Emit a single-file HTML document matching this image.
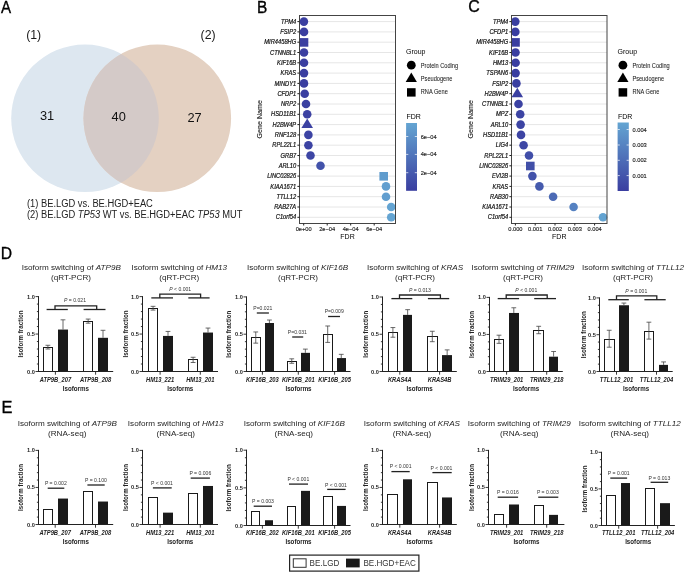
<!DOCTYPE html>
<html><head><meta charset="utf-8"><style>
html,body{margin:0;padding:0;background:#fff;}
body{width:685px;height:573px;overflow:hidden;}
svg{display:block;will-change:transform;}
svg text{font-family:"Liberation Sans",sans-serif;}
</style></head><body>
<svg width="685" height="573" viewBox="0 0 685 573">

<text transform="translate(1.00,12.70) scale(0.9,1)" font-size="16.8" text-anchor="start" fill="#000" font-weight="normal" font-style="normal" stroke="#000" stroke-width="0.35">A</text>
<text transform="translate(257.00,12.60) scale(0.92,1)" font-size="16.8" text-anchor="start" fill="#000" font-weight="normal" font-style="normal" stroke="#000" stroke-width="0.35">B</text>
<text transform="translate(468.30,12.40) scale(0.95,1)" font-size="16.8" text-anchor="start" fill="#000" font-weight="normal" font-style="normal" stroke="#000" stroke-width="0.35">C</text>
<text transform="translate(0.80,258.90) scale(0.93,1)" font-size="16.9" text-anchor="start" fill="#000" font-weight="normal" font-style="normal" stroke="#000" stroke-width="0.35">D</text>
<text transform="translate(1.60,412.80) scale(0.97,1)" font-size="16.9" text-anchor="start" fill="#000" font-weight="normal" font-style="normal" stroke="#000" stroke-width="0.35">E</text>
<defs><clipPath id="cl"><circle cx="85" cy="118.3" r="73.8"/></clipPath></defs>
<circle cx="85" cy="118.3" r="73.8" fill="#dde7f0"/>
<circle cx="157.3" cy="118.3" r="73.8" fill="#e4d1c2"/>
<circle cx="157.3" cy="118.3" r="73.8" fill="#d4cac8" clip-path="url(#cl)"/>
<text x="26.20" y="39.20" font-size="12.3" text-anchor="start" fill="#1a1a1a" font-weight="normal" font-style="normal" >(1)</text>
<text x="200.60" y="39.20" font-size="12.3" text-anchor="start" fill="#1a1a1a" font-weight="normal" font-style="normal" >(2)</text>
<text x="47.00" y="119.80" font-size="12.8" text-anchor="middle" fill="#111" font-weight="normal" font-style="normal" >31</text>
<text x="118.70" y="121.10" font-size="12.8" text-anchor="middle" fill="#111" font-weight="normal" font-style="normal" >40</text>
<text x="194.60" y="121.50" font-size="12.8" text-anchor="middle" fill="#111" font-weight="normal" font-style="normal" >27</text>
<text transform="translate(27.00,206.60) scale(1,1.07)" font-size="9.35" text-anchor="start" fill="#222" font-weight="normal" font-style="normal" >(1) BE.LGD vs. BE.HGD+EAC</text>
<text transform="translate(27.00,218.00) scale(1,1.07)" font-size="9.35" text-anchor="start" fill="#222" font-weight="normal" font-style="normal" >(2) BE.LGD <tspan font-style="italic">TP53</tspan> WT vs. BE.HGD+EAC <tspan font-style="italic">TP53</tspan> MUT</text>
<line x1="299.50" y1="21.60" x2="395.50" y2="21.60" stroke="#e6e6e6" stroke-width="1.0"/>
<line x1="299.50" y1="31.90" x2="395.50" y2="31.90" stroke="#e6e6e6" stroke-width="1.0"/>
<line x1="299.50" y1="42.20" x2="395.50" y2="42.20" stroke="#e6e6e6" stroke-width="1.0"/>
<line x1="299.50" y1="52.50" x2="395.50" y2="52.50" stroke="#e6e6e6" stroke-width="1.0"/>
<line x1="299.50" y1="62.80" x2="395.50" y2="62.80" stroke="#e6e6e6" stroke-width="1.0"/>
<line x1="299.50" y1="73.10" x2="395.50" y2="73.10" stroke="#e6e6e6" stroke-width="1.0"/>
<line x1="299.50" y1="83.40" x2="395.50" y2="83.40" stroke="#e6e6e6" stroke-width="1.0"/>
<line x1="299.50" y1="93.70" x2="395.50" y2="93.70" stroke="#e6e6e6" stroke-width="1.0"/>
<line x1="299.50" y1="104.00" x2="395.50" y2="104.00" stroke="#e6e6e6" stroke-width="1.0"/>
<line x1="299.50" y1="114.30" x2="395.50" y2="114.30" stroke="#e6e6e6" stroke-width="1.0"/>
<line x1="299.50" y1="124.60" x2="395.50" y2="124.60" stroke="#e6e6e6" stroke-width="1.0"/>
<line x1="299.50" y1="134.90" x2="395.50" y2="134.90" stroke="#e6e6e6" stroke-width="1.0"/>
<line x1="299.50" y1="145.20" x2="395.50" y2="145.20" stroke="#e6e6e6" stroke-width="1.0"/>
<line x1="299.50" y1="155.50" x2="395.50" y2="155.50" stroke="#e6e6e6" stroke-width="1.0"/>
<line x1="299.50" y1="165.80" x2="395.50" y2="165.80" stroke="#e6e6e6" stroke-width="1.0"/>
<line x1="299.50" y1="176.10" x2="395.50" y2="176.10" stroke="#e6e6e6" stroke-width="1.0"/>
<line x1="299.50" y1="186.40" x2="395.50" y2="186.40" stroke="#e6e6e6" stroke-width="1.0"/>
<line x1="299.50" y1="196.70" x2="395.50" y2="196.70" stroke="#e6e6e6" stroke-width="1.0"/>
<line x1="299.50" y1="207.00" x2="395.50" y2="207.00" stroke="#e6e6e6" stroke-width="1.0"/>
<line x1="299.50" y1="217.30" x2="395.50" y2="217.30" stroke="#e6e6e6" stroke-width="1.0"/>
<circle cx="303.9" cy="21.60" r="4.3" fill="#3a3ea0"/>
<circle cx="304" cy="31.90" r="4.3" fill="#3a3ea0"/>
<rect x="299.70" y="38.10" width="8.60" height="8.60" fill="#3a3ea0" stroke="none" stroke-width="1"/>
<circle cx="304" cy="52.50" r="4.3" fill="#3a3ea0"/>
<circle cx="304" cy="62.80" r="4.3" fill="#3a3ea0"/>
<circle cx="304" cy="73.10" r="4.3" fill="#3a3ea0"/>
<circle cx="304" cy="83.40" r="4.3" fill="#3a3ea0"/>
<circle cx="304.7" cy="93.70" r="4.3" fill="#3a3fa1"/>
<circle cx="306" cy="104.00" r="4.3" fill="#3b41a1"/>
<circle cx="307.2" cy="114.30" r="4.3" fill="#3c42a2"/>
<polygon points="301.40,128.10 313.00,128.10 307.20,118.60" fill="#3c42a2"/>
<circle cx="308.4" cy="134.90" r="4.3" fill="#3c43a3"/>
<circle cx="308.4" cy="145.20" r="4.3" fill="#3c43a3"/>
<circle cx="310.5" cy="155.50" r="4.3" fill="#3d46a4"/>
<circle cx="320.5" cy="165.80" r="4.3" fill="#4252aa"/>
<rect x="379.40" y="172.00" width="8.60" height="8.60" fill="#609ccd" stroke="none" stroke-width="1"/>
<circle cx="386" cy="186.40" r="4.3" fill="#619ecf"/>
<circle cx="386" cy="196.70" r="4.3" fill="#619ecf"/>
<circle cx="391.2" cy="207.00" r="4.3" fill="#64a4d2"/>
<circle cx="391.2" cy="217.30" r="4.3" fill="#64a4d2"/>
<rect x="299.50" y="15.50" width="96.00" height="208.00" fill="none" stroke="#444" stroke-width="1.0"/>
<line x1="297.40" y1="21.60" x2="299.50" y2="21.60" stroke="#222" stroke-width="1.0"/>
<text transform="translate(296.20,23.70) scale(1,1.1)" font-size="5.75" text-anchor="end" fill="#111" font-weight="normal" font-style="italic" stroke="#111" stroke-width="0.18">TPM4</text>
<line x1="297.40" y1="31.90" x2="299.50" y2="31.90" stroke="#222" stroke-width="1.0"/>
<text transform="translate(296.20,34.00) scale(1,1.1)" font-size="5.75" text-anchor="end" fill="#111" font-weight="normal" font-style="italic" stroke="#111" stroke-width="0.18">FSIP2</text>
<line x1="297.40" y1="42.20" x2="299.50" y2="42.20" stroke="#222" stroke-width="1.0"/>
<text transform="translate(296.20,44.30) scale(1,1.1)" font-size="5.75" text-anchor="end" fill="#111" font-weight="normal" font-style="italic" stroke="#111" stroke-width="0.18">MIR4458HG</text>
<line x1="297.40" y1="52.50" x2="299.50" y2="52.50" stroke="#222" stroke-width="1.0"/>
<text transform="translate(296.20,54.60) scale(1,1.1)" font-size="5.75" text-anchor="end" fill="#111" font-weight="normal" font-style="italic" stroke="#111" stroke-width="0.18">CTNNBL1</text>
<line x1="297.40" y1="62.80" x2="299.50" y2="62.80" stroke="#222" stroke-width="1.0"/>
<text transform="translate(296.20,64.90) scale(1,1.1)" font-size="5.75" text-anchor="end" fill="#111" font-weight="normal" font-style="italic" stroke="#111" stroke-width="0.18">KIF16B</text>
<line x1="297.40" y1="73.10" x2="299.50" y2="73.10" stroke="#222" stroke-width="1.0"/>
<text transform="translate(296.20,75.20) scale(1,1.1)" font-size="5.75" text-anchor="end" fill="#111" font-weight="normal" font-style="italic" stroke="#111" stroke-width="0.18">KRAS</text>
<line x1="297.40" y1="83.40" x2="299.50" y2="83.40" stroke="#222" stroke-width="1.0"/>
<text transform="translate(296.20,85.50) scale(1,1.1)" font-size="5.75" text-anchor="end" fill="#111" font-weight="normal" font-style="italic" stroke="#111" stroke-width="0.18">MINDY1</text>
<line x1="297.40" y1="93.70" x2="299.50" y2="93.70" stroke="#222" stroke-width="1.0"/>
<text transform="translate(296.20,95.80) scale(1,1.1)" font-size="5.75" text-anchor="end" fill="#111" font-weight="normal" font-style="italic" stroke="#111" stroke-width="0.18">CFDP1</text>
<line x1="297.40" y1="104.00" x2="299.50" y2="104.00" stroke="#222" stroke-width="1.0"/>
<text transform="translate(296.20,106.10) scale(1,1.1)" font-size="5.75" text-anchor="end" fill="#111" font-weight="normal" font-style="italic" stroke="#111" stroke-width="0.18">NRP2</text>
<line x1="297.40" y1="114.30" x2="299.50" y2="114.30" stroke="#222" stroke-width="1.0"/>
<text transform="translate(296.20,116.40) scale(1,1.1)" font-size="5.75" text-anchor="end" fill="#111" font-weight="normal" font-style="italic" stroke="#111" stroke-width="0.18">HSD11B1</text>
<line x1="297.40" y1="124.60" x2="299.50" y2="124.60" stroke="#222" stroke-width="1.0"/>
<text transform="translate(296.20,126.70) scale(1,1.1)" font-size="5.75" text-anchor="end" fill="#111" font-weight="normal" font-style="italic" stroke="#111" stroke-width="0.18">H2BW4P</text>
<line x1="297.40" y1="134.90" x2="299.50" y2="134.90" stroke="#222" stroke-width="1.0"/>
<text transform="translate(296.20,137.00) scale(1,1.1)" font-size="5.75" text-anchor="end" fill="#111" font-weight="normal" font-style="italic" stroke="#111" stroke-width="0.18">RNF128</text>
<line x1="297.40" y1="145.20" x2="299.50" y2="145.20" stroke="#222" stroke-width="1.0"/>
<text transform="translate(296.20,147.30) scale(1,1.1)" font-size="5.75" text-anchor="end" fill="#111" font-weight="normal" font-style="italic" stroke="#111" stroke-width="0.18">RPL22L1</text>
<line x1="297.40" y1="155.50" x2="299.50" y2="155.50" stroke="#222" stroke-width="1.0"/>
<text transform="translate(296.20,157.60) scale(1,1.1)" font-size="5.75" text-anchor="end" fill="#111" font-weight="normal" font-style="italic" stroke="#111" stroke-width="0.18">GRB7</text>
<line x1="297.40" y1="165.80" x2="299.50" y2="165.80" stroke="#222" stroke-width="1.0"/>
<text transform="translate(296.20,167.90) scale(1,1.1)" font-size="5.75" text-anchor="end" fill="#111" font-weight="normal" font-style="italic" stroke="#111" stroke-width="0.18">ARL10</text>
<line x1="297.40" y1="176.10" x2="299.50" y2="176.10" stroke="#222" stroke-width="1.0"/>
<text transform="translate(296.20,178.20) scale(1,1.1)" font-size="5.75" text-anchor="end" fill="#111" font-weight="normal" font-style="italic" stroke="#111" stroke-width="0.18">LINC02826</text>
<line x1="297.40" y1="186.40" x2="299.50" y2="186.40" stroke="#222" stroke-width="1.0"/>
<text transform="translate(296.20,188.50) scale(1,1.1)" font-size="5.75" text-anchor="end" fill="#111" font-weight="normal" font-style="italic" stroke="#111" stroke-width="0.18">KIAA1671</text>
<line x1="297.40" y1="196.70" x2="299.50" y2="196.70" stroke="#222" stroke-width="1.0"/>
<text transform="translate(296.20,198.80) scale(1,1.1)" font-size="5.75" text-anchor="end" fill="#111" font-weight="normal" font-style="italic" stroke="#111" stroke-width="0.18">TTLL12</text>
<line x1="297.40" y1="207.00" x2="299.50" y2="207.00" stroke="#222" stroke-width="1.0"/>
<text transform="translate(296.20,209.10) scale(1,1.1)" font-size="5.75" text-anchor="end" fill="#111" font-weight="normal" font-style="italic" stroke="#111" stroke-width="0.18">RAB27A</text>
<line x1="297.40" y1="217.30" x2="299.50" y2="217.30" stroke="#222" stroke-width="1.0"/>
<text transform="translate(296.20,219.40) scale(1,1.1)" font-size="5.75" text-anchor="end" fill="#111" font-weight="normal" font-style="italic" stroke="#111" stroke-width="0.18">C1orf54</text>
<line x1="303.70" y1="223.50" x2="303.70" y2="225.50" stroke="#222" stroke-width="1.0"/>
<text x="303.70" y="231.20" font-size="5.7" text-anchor="middle" fill="#222" font-weight="normal" font-style="normal" stroke="#222" stroke-width="0.14">0e+00</text>
<line x1="327.20" y1="223.50" x2="327.20" y2="225.50" stroke="#222" stroke-width="1.0"/>
<text x="327.20" y="231.20" font-size="5.7" text-anchor="middle" fill="#222" font-weight="normal" font-style="normal" stroke="#222" stroke-width="0.14">2e−04</text>
<line x1="350.70" y1="223.50" x2="350.70" y2="225.50" stroke="#222" stroke-width="1.0"/>
<text x="350.70" y="231.20" font-size="5.7" text-anchor="middle" fill="#222" font-weight="normal" font-style="normal" stroke="#222" stroke-width="0.14">4e−04</text>
<line x1="374.20" y1="223.50" x2="374.20" y2="225.50" stroke="#222" stroke-width="1.0"/>
<text x="374.20" y="231.20" font-size="5.7" text-anchor="middle" fill="#222" font-weight="normal" font-style="normal" stroke="#222" stroke-width="0.14">6e−04</text>
<text x="347.50" y="239.10" font-size="7" text-anchor="middle" fill="#000" font-weight="normal" font-style="normal" >FDR</text>
<text transform="translate(262.20,119.3) rotate(-90)" font-size="7.1" text-anchor="middle" fill="#111" stroke="#111" stroke-width="0.1">Gene Name</text>
<text x="406.00" y="54.20" font-size="7" text-anchor="start" fill="#000" font-weight="normal" font-style="normal" >Group</text>
<circle cx="411.3" cy="65.2" r="4.4" fill="#000"/>
<polygon points="405.7,81.9 416.90000000000003,81.9 411.3,72.5" fill="#000"/>
<rect x="407.00" y="88.20" width="8.60" height="8.40" fill="#000" stroke="none" stroke-width="1"/>
<text transform="translate(420.80,67.50) scale(1,1.15)" font-size="5.65" text-anchor="start" fill="#1a1a1a" font-weight="normal" font-style="normal" stroke="#222" stroke-width="0.05">Protein Coding</text>
<text transform="translate(420.80,80.60) scale(1,1.15)" font-size="5.65" text-anchor="start" fill="#1a1a1a" font-weight="normal" font-style="normal" stroke="#222" stroke-width="0.05">Pseudogene</text>
<text transform="translate(420.80,94.40) scale(1,1.15)" font-size="5.65" text-anchor="start" fill="#1a1a1a" font-weight="normal" font-style="normal" stroke="#222" stroke-width="0.05">RNA Gene</text>
<text x="406.40" y="119.10" font-size="7" text-anchor="start" fill="#000" font-weight="normal" font-style="normal" >FDR</text>
<defs><linearGradient id="g406" x1="0" y1="1" x2="0" y2="0"><stop offset="0" stop-color="#3a3ea0"/><stop offset="1" stop-color="#64a5d2"/></linearGradient></defs>
<rect x="406.10" y="123.00" width="10.90" height="67.80" fill="url(#g406)" stroke="none" stroke-width="1"/>
<line x1="406.10" y1="136.50" x2="408.30" y2="136.50" stroke="#fff" stroke-width="0.7"/>
<line x1="414.80" y1="136.50" x2="417.00" y2="136.50" stroke="#fff" stroke-width="0.7"/>
<text x="420.70" y="138.50" font-size="5.7" text-anchor="start" fill="#222" font-weight="normal" font-style="normal" stroke="#222" stroke-width="0.14">6e−04</text>
<line x1="406.10" y1="154.40" x2="408.30" y2="154.40" stroke="#fff" stroke-width="0.7"/>
<line x1="414.80" y1="154.40" x2="417.00" y2="154.40" stroke="#fff" stroke-width="0.7"/>
<text x="420.70" y="156.40" font-size="5.7" text-anchor="start" fill="#222" font-weight="normal" font-style="normal" stroke="#222" stroke-width="0.14">4e−04</text>
<line x1="406.10" y1="172.70" x2="408.30" y2="172.70" stroke="#fff" stroke-width="0.7"/>
<line x1="414.80" y1="172.70" x2="417.00" y2="172.70" stroke="#fff" stroke-width="0.7"/>
<text x="420.70" y="174.70" font-size="5.7" text-anchor="start" fill="#222" font-weight="normal" font-style="normal" stroke="#222" stroke-width="0.14">2e−04</text>
<line x1="511.50" y1="21.60" x2="607.00" y2="21.60" stroke="#e6e6e6" stroke-width="1.0"/>
<line x1="511.50" y1="31.90" x2="607.00" y2="31.90" stroke="#e6e6e6" stroke-width="1.0"/>
<line x1="511.50" y1="42.20" x2="607.00" y2="42.20" stroke="#e6e6e6" stroke-width="1.0"/>
<line x1="511.50" y1="52.50" x2="607.00" y2="52.50" stroke="#e6e6e6" stroke-width="1.0"/>
<line x1="511.50" y1="62.80" x2="607.00" y2="62.80" stroke="#e6e6e6" stroke-width="1.0"/>
<line x1="511.50" y1="73.10" x2="607.00" y2="73.10" stroke="#e6e6e6" stroke-width="1.0"/>
<line x1="511.50" y1="83.40" x2="607.00" y2="83.40" stroke="#e6e6e6" stroke-width="1.0"/>
<line x1="511.50" y1="93.70" x2="607.00" y2="93.70" stroke="#e6e6e6" stroke-width="1.0"/>
<line x1="511.50" y1="104.00" x2="607.00" y2="104.00" stroke="#e6e6e6" stroke-width="1.0"/>
<line x1="511.50" y1="114.30" x2="607.00" y2="114.30" stroke="#e6e6e6" stroke-width="1.0"/>
<line x1="511.50" y1="124.60" x2="607.00" y2="124.60" stroke="#e6e6e6" stroke-width="1.0"/>
<line x1="511.50" y1="134.90" x2="607.00" y2="134.90" stroke="#e6e6e6" stroke-width="1.0"/>
<line x1="511.50" y1="145.20" x2="607.00" y2="145.20" stroke="#e6e6e6" stroke-width="1.0"/>
<line x1="511.50" y1="155.50" x2="607.00" y2="155.50" stroke="#e6e6e6" stroke-width="1.0"/>
<line x1="511.50" y1="165.80" x2="607.00" y2="165.80" stroke="#e6e6e6" stroke-width="1.0"/>
<line x1="511.50" y1="176.10" x2="607.00" y2="176.10" stroke="#e6e6e6" stroke-width="1.0"/>
<line x1="511.50" y1="186.40" x2="607.00" y2="186.40" stroke="#e6e6e6" stroke-width="1.0"/>
<line x1="511.50" y1="196.70" x2="607.00" y2="196.70" stroke="#e6e6e6" stroke-width="1.0"/>
<line x1="511.50" y1="207.00" x2="607.00" y2="207.00" stroke="#e6e6e6" stroke-width="1.0"/>
<line x1="511.50" y1="217.30" x2="607.00" y2="217.30" stroke="#e6e6e6" stroke-width="1.0"/>
<circle cx="515.3" cy="21.60" r="4.3" fill="#3a3ea0"/>
<circle cx="515.3" cy="31.90" r="4.3" fill="#3a3ea0"/>
<rect x="511.20" y="38.10" width="8.60" height="8.60" fill="#3a3ea0" stroke="none" stroke-width="1"/>
<circle cx="515.5" cy="52.50" r="4.3" fill="#3a3ea0"/>
<circle cx="515.6" cy="62.80" r="4.3" fill="#3a3ea0"/>
<circle cx="515.6" cy="73.10" r="4.3" fill="#3a3ea0"/>
<circle cx="516.4" cy="83.40" r="4.3" fill="#3a3fa1"/>
<polygon points="511.50,97.20 523.10,97.20 517.30,87.70" fill="#3b40a1"/>
<circle cx="518.5" cy="104.00" r="4.3" fill="#3b42a2"/>
<circle cx="520.2" cy="114.30" r="4.3" fill="#3c44a3"/>
<circle cx="520.6" cy="124.60" r="4.3" fill="#3c44a3"/>
<circle cx="521" cy="134.90" r="4.3" fill="#3d44a3"/>
<circle cx="523.6" cy="145.20" r="4.3" fill="#3e47a5"/>
<circle cx="529" cy="155.50" r="4.3" fill="#404ea8"/>
<rect x="526.00" y="161.70" width="8.60" height="8.60" fill="#414fa8" stroke="none" stroke-width="1"/>
<circle cx="532.4" cy="176.10" r="4.3" fill="#4252aa"/>
<circle cx="539.4" cy="186.40" r="4.3" fill="#455aad"/>
<circle cx="553.1" cy="196.70" r="4.3" fill="#4c6ab5"/>
<circle cx="573.6" cy="207.00" r="4.3" fill="#5581c1"/>
<circle cx="603" cy="217.30" r="4.3" fill="#63a3d1"/>
<rect x="511.50" y="15.50" width="95.50" height="208.00" fill="none" stroke="#444" stroke-width="1.0"/>
<line x1="509.40" y1="21.60" x2="511.50" y2="21.60" stroke="#222" stroke-width="1.0"/>
<text transform="translate(508.20,23.70) scale(1,1.1)" font-size="5.75" text-anchor="end" fill="#111" font-weight="normal" font-style="italic" stroke="#111" stroke-width="0.18">TPM4</text>
<line x1="509.40" y1="31.90" x2="511.50" y2="31.90" stroke="#222" stroke-width="1.0"/>
<text transform="translate(508.20,34.00) scale(1,1.1)" font-size="5.75" text-anchor="end" fill="#111" font-weight="normal" font-style="italic" stroke="#111" stroke-width="0.18">CFDP1</text>
<line x1="509.40" y1="42.20" x2="511.50" y2="42.20" stroke="#222" stroke-width="1.0"/>
<text transform="translate(508.20,44.30) scale(1,1.1)" font-size="5.75" text-anchor="end" fill="#111" font-weight="normal" font-style="italic" stroke="#111" stroke-width="0.18">MIR4458HG</text>
<line x1="509.40" y1="52.50" x2="511.50" y2="52.50" stroke="#222" stroke-width="1.0"/>
<text transform="translate(508.20,54.60) scale(1,1.1)" font-size="5.75" text-anchor="end" fill="#111" font-weight="normal" font-style="italic" stroke="#111" stroke-width="0.18">KIF16B</text>
<line x1="509.40" y1="62.80" x2="511.50" y2="62.80" stroke="#222" stroke-width="1.0"/>
<text transform="translate(508.20,64.90) scale(1,1.1)" font-size="5.75" text-anchor="end" fill="#111" font-weight="normal" font-style="italic" stroke="#111" stroke-width="0.18">HM13</text>
<line x1="509.40" y1="73.10" x2="511.50" y2="73.10" stroke="#222" stroke-width="1.0"/>
<text transform="translate(508.20,75.20) scale(1,1.1)" font-size="5.75" text-anchor="end" fill="#111" font-weight="normal" font-style="italic" stroke="#111" stroke-width="0.18">TSPAN6</text>
<line x1="509.40" y1="83.40" x2="511.50" y2="83.40" stroke="#222" stroke-width="1.0"/>
<text transform="translate(508.20,85.50) scale(1,1.1)" font-size="5.75" text-anchor="end" fill="#111" font-weight="normal" font-style="italic" stroke="#111" stroke-width="0.18">FSIP2</text>
<line x1="509.40" y1="93.70" x2="511.50" y2="93.70" stroke="#222" stroke-width="1.0"/>
<text transform="translate(508.20,95.80) scale(1,1.1)" font-size="5.75" text-anchor="end" fill="#111" font-weight="normal" font-style="italic" stroke="#111" stroke-width="0.18">H2BW4P</text>
<line x1="509.40" y1="104.00" x2="511.50" y2="104.00" stroke="#222" stroke-width="1.0"/>
<text transform="translate(508.20,106.10) scale(1,1.1)" font-size="5.75" text-anchor="end" fill="#111" font-weight="normal" font-style="italic" stroke="#111" stroke-width="0.18">CTNNBL1</text>
<line x1="509.40" y1="114.30" x2="511.50" y2="114.30" stroke="#222" stroke-width="1.0"/>
<text transform="translate(508.20,116.40) scale(1,1.1)" font-size="5.75" text-anchor="end" fill="#111" font-weight="normal" font-style="italic" stroke="#111" stroke-width="0.18">MPZ</text>
<line x1="509.40" y1="124.60" x2="511.50" y2="124.60" stroke="#222" stroke-width="1.0"/>
<text transform="translate(508.20,126.70) scale(1,1.1)" font-size="5.75" text-anchor="end" fill="#111" font-weight="normal" font-style="italic" stroke="#111" stroke-width="0.18">ARL10</text>
<line x1="509.40" y1="134.90" x2="511.50" y2="134.90" stroke="#222" stroke-width="1.0"/>
<text transform="translate(508.20,137.00) scale(1,1.1)" font-size="5.75" text-anchor="end" fill="#111" font-weight="normal" font-style="italic" stroke="#111" stroke-width="0.18">HSD11B1</text>
<line x1="509.40" y1="145.20" x2="511.50" y2="145.20" stroke="#222" stroke-width="1.0"/>
<text transform="translate(508.20,147.30) scale(1,1.1)" font-size="5.75" text-anchor="end" fill="#111" font-weight="normal" font-style="italic" stroke="#111" stroke-width="0.18">LIG4</text>
<line x1="509.40" y1="155.50" x2="511.50" y2="155.50" stroke="#222" stroke-width="1.0"/>
<text transform="translate(508.20,157.60) scale(1,1.1)" font-size="5.75" text-anchor="end" fill="#111" font-weight="normal" font-style="italic" stroke="#111" stroke-width="0.18">RPL22L1</text>
<line x1="509.40" y1="165.80" x2="511.50" y2="165.80" stroke="#222" stroke-width="1.0"/>
<text transform="translate(508.20,167.90) scale(1,1.1)" font-size="5.75" text-anchor="end" fill="#111" font-weight="normal" font-style="italic" stroke="#111" stroke-width="0.18">LINC02826</text>
<line x1="509.40" y1="176.10" x2="511.50" y2="176.10" stroke="#222" stroke-width="1.0"/>
<text transform="translate(508.20,178.20) scale(1,1.1)" font-size="5.75" text-anchor="end" fill="#111" font-weight="normal" font-style="italic" stroke="#111" stroke-width="0.18">EVI2B</text>
<line x1="509.40" y1="186.40" x2="511.50" y2="186.40" stroke="#222" stroke-width="1.0"/>
<text transform="translate(508.20,188.50) scale(1,1.1)" font-size="5.75" text-anchor="end" fill="#111" font-weight="normal" font-style="italic" stroke="#111" stroke-width="0.18">KRAS</text>
<line x1="509.40" y1="196.70" x2="511.50" y2="196.70" stroke="#222" stroke-width="1.0"/>
<text transform="translate(508.20,198.80) scale(1,1.1)" font-size="5.75" text-anchor="end" fill="#111" font-weight="normal" font-style="italic" stroke="#111" stroke-width="0.18">RAB30</text>
<line x1="509.40" y1="207.00" x2="511.50" y2="207.00" stroke="#222" stroke-width="1.0"/>
<text transform="translate(508.20,209.10) scale(1,1.1)" font-size="5.75" text-anchor="end" fill="#111" font-weight="normal" font-style="italic" stroke="#111" stroke-width="0.18">KIAA1671</text>
<line x1="509.40" y1="217.30" x2="511.50" y2="217.30" stroke="#222" stroke-width="1.0"/>
<text transform="translate(508.20,219.40) scale(1,1.1)" font-size="5.75" text-anchor="end" fill="#111" font-weight="normal" font-style="italic" stroke="#111" stroke-width="0.18">C1orf54</text>
<line x1="515.40" y1="223.50" x2="515.40" y2="225.50" stroke="#222" stroke-width="1.0"/>
<text x="515.40" y="231.20" font-size="5.7" text-anchor="middle" fill="#222" font-weight="normal" font-style="normal" stroke="#222" stroke-width="0.14">0.000</text>
<line x1="535.20" y1="223.50" x2="535.20" y2="225.50" stroke="#222" stroke-width="1.0"/>
<text x="535.20" y="231.20" font-size="5.7" text-anchor="middle" fill="#222" font-weight="normal" font-style="normal" stroke="#222" stroke-width="0.14">0.001</text>
<line x1="555.00" y1="223.50" x2="555.00" y2="225.50" stroke="#222" stroke-width="1.0"/>
<text x="555.00" y="231.20" font-size="5.7" text-anchor="middle" fill="#222" font-weight="normal" font-style="normal" stroke="#222" stroke-width="0.14">0.002</text>
<line x1="574.80" y1="223.50" x2="574.80" y2="225.50" stroke="#222" stroke-width="1.0"/>
<text x="574.80" y="231.20" font-size="5.7" text-anchor="middle" fill="#222" font-weight="normal" font-style="normal" stroke="#222" stroke-width="0.14">0.003</text>
<line x1="594.60" y1="223.50" x2="594.60" y2="225.50" stroke="#222" stroke-width="1.0"/>
<text x="594.60" y="231.20" font-size="5.7" text-anchor="middle" fill="#222" font-weight="normal" font-style="normal" stroke="#222" stroke-width="0.14">0.004</text>
<text x="559.25" y="239.10" font-size="7" text-anchor="middle" fill="#000" font-weight="normal" font-style="normal" >FDR</text>
<text transform="translate(473.20,119.3) rotate(-90)" font-size="7.1" text-anchor="middle" fill="#111" stroke="#111" stroke-width="0.1">Gene Name</text>
<text x="617.60" y="54.20" font-size="7" text-anchor="start" fill="#000" font-weight="normal" font-style="normal" >Group</text>
<circle cx="622.9" cy="65.2" r="4.4" fill="#000"/>
<polygon points="617.3,81.9 628.5,81.9 622.9,72.5" fill="#000"/>
<rect x="618.60" y="88.20" width="8.60" height="8.40" fill="#000" stroke="none" stroke-width="1"/>
<text transform="translate(632.40,67.50) scale(1,1.15)" font-size="5.65" text-anchor="start" fill="#1a1a1a" font-weight="normal" font-style="normal" stroke="#222" stroke-width="0.05">Protein Coding</text>
<text transform="translate(632.40,80.60) scale(1,1.15)" font-size="5.65" text-anchor="start" fill="#1a1a1a" font-weight="normal" font-style="normal" stroke="#222" stroke-width="0.05">Pseudogene</text>
<text transform="translate(632.40,94.40) scale(1,1.15)" font-size="5.65" text-anchor="start" fill="#1a1a1a" font-weight="normal" font-style="normal" stroke="#222" stroke-width="0.05">RNA Gene</text>
<text x="618.00" y="119.10" font-size="7" text-anchor="start" fill="#000" font-weight="normal" font-style="normal" >FDR</text>
<defs><linearGradient id="g617" x1="0" y1="1" x2="0" y2="0"><stop offset="0" stop-color="#3a3ea0"/><stop offset="1" stop-color="#64a5d2"/></linearGradient></defs>
<rect x="617.60" y="122.50" width="11.20" height="68.50" fill="url(#g617)" stroke="none" stroke-width="1"/>
<line x1="617.60" y1="129.50" x2="619.80" y2="129.50" stroke="#fff" stroke-width="0.7"/>
<line x1="626.60" y1="129.50" x2="628.80" y2="129.50" stroke="#fff" stroke-width="0.7"/>
<text x="632.50" y="131.50" font-size="5.7" text-anchor="start" fill="#222" font-weight="normal" font-style="normal" stroke="#222" stroke-width="0.14">0.004</text>
<line x1="617.60" y1="145.00" x2="619.80" y2="145.00" stroke="#fff" stroke-width="0.7"/>
<line x1="626.60" y1="145.00" x2="628.80" y2="145.00" stroke="#fff" stroke-width="0.7"/>
<text x="632.50" y="147.00" font-size="5.7" text-anchor="start" fill="#222" font-weight="normal" font-style="normal" stroke="#222" stroke-width="0.14">0.003</text>
<line x1="617.60" y1="160.30" x2="619.80" y2="160.30" stroke="#fff" stroke-width="0.7"/>
<line x1="626.60" y1="160.30" x2="628.80" y2="160.30" stroke="#fff" stroke-width="0.7"/>
<text x="632.50" y="162.30" font-size="5.7" text-anchor="start" fill="#222" font-weight="normal" font-style="normal" stroke="#222" stroke-width="0.14">0.002</text>
<line x1="617.60" y1="175.60" x2="619.80" y2="175.60" stroke="#fff" stroke-width="0.7"/>
<line x1="626.60" y1="175.60" x2="628.80" y2="175.60" stroke="#fff" stroke-width="0.7"/>
<text x="632.50" y="177.60" font-size="5.7" text-anchor="start" fill="#222" font-weight="normal" font-style="normal" stroke="#222" stroke-width="0.14">0.001</text>
<rect x="43.50" y="347.50" width="9.00" height="24.00" fill="#fff" stroke="#1a1a1a" stroke-width="1.0"/>
<line x1="47.90" y1="347.16" x2="47.90" y2="345.29" stroke="#444" stroke-width="0.8"/>
<line x1="45.50" y1="345.29" x2="50.30" y2="345.29" stroke="#444" stroke-width="0.8"/>
<line x1="47.90" y1="347.16" x2="47.90" y2="349.03" stroke="#444" stroke-width="0.8"/>
<line x1="45.50" y1="349.03" x2="50.30" y2="349.03" stroke="#444" stroke-width="0.8"/>
<rect x="58.00" y="329.56" width="10.00" height="41.94" fill="#1a1a1a" stroke="none" stroke-width="1"/>
<line x1="63.00" y1="329.56" x2="63.00" y2="319.82" stroke="#444" stroke-width="0.8"/>
<line x1="60.60" y1="319.82" x2="65.40" y2="319.82" stroke="#444" stroke-width="0.8"/>
<rect x="83.50" y="321.50" width="9.00" height="50.00" fill="#fff" stroke="#1a1a1a" stroke-width="1.0"/>
<line x1="88.15" y1="321.32" x2="88.15" y2="319.07" stroke="#444" stroke-width="0.8"/>
<line x1="85.75" y1="319.07" x2="90.55" y2="319.07" stroke="#444" stroke-width="0.8"/>
<line x1="88.15" y1="321.32" x2="88.15" y2="323.19" stroke="#444" stroke-width="0.8"/>
<line x1="85.75" y1="323.19" x2="90.55" y2="323.19" stroke="#444" stroke-width="0.8"/>
<rect x="98.00" y="337.80" width="10.00" height="33.70" fill="#1a1a1a" stroke="none" stroke-width="1"/>
<line x1="103.00" y1="337.80" x2="103.00" y2="330.31" stroke="#444" stroke-width="0.8"/>
<line x1="100.60" y1="330.31" x2="105.40" y2="330.31" stroke="#444" stroke-width="0.8"/>
<line x1="38.50" y1="296.10" x2="38.50" y2="372.00" stroke="#222" stroke-width="1.0"/>
<line x1="38.00" y1="371.50" x2="113.20" y2="371.50" stroke="#222" stroke-width="1.0"/>
<line x1="35.50" y1="371.50" x2="38.50" y2="371.50" stroke="#222" stroke-width="0.9"/>
<line x1="36.90" y1="364.01" x2="38.50" y2="364.01" stroke="#222" stroke-width="0.9"/>
<line x1="36.90" y1="356.52" x2="38.50" y2="356.52" stroke="#222" stroke-width="0.9"/>
<line x1="36.90" y1="349.03" x2="38.50" y2="349.03" stroke="#222" stroke-width="0.9"/>
<line x1="36.90" y1="341.54" x2="38.50" y2="341.54" stroke="#222" stroke-width="0.9"/>
<line x1="35.50" y1="334.05" x2="38.50" y2="334.05" stroke="#222" stroke-width="0.9"/>
<line x1="36.90" y1="326.56" x2="38.50" y2="326.56" stroke="#222" stroke-width="0.9"/>
<line x1="36.90" y1="319.07" x2="38.50" y2="319.07" stroke="#222" stroke-width="0.9"/>
<line x1="36.90" y1="311.58" x2="38.50" y2="311.58" stroke="#222" stroke-width="0.9"/>
<line x1="36.90" y1="304.09" x2="38.50" y2="304.09" stroke="#222" stroke-width="0.9"/>
<line x1="35.50" y1="296.60" x2="38.50" y2="296.60" stroke="#222" stroke-width="0.9"/>
<text x="34.90" y="373.50" font-size="5.6" text-anchor="end" fill="#222" font-weight="bold" font-style="normal" >0.0</text>
<text x="34.90" y="336.05" font-size="5.6" text-anchor="end" fill="#222" font-weight="bold" font-style="normal" >0.5</text>
<text x="34.90" y="298.60" font-size="5.6" text-anchor="end" fill="#222" font-weight="bold" font-style="normal" >1.0</text>
<text transform="translate(23.20,334.05) rotate(-90) scale(1,1.1)" font-size="6.2" text-anchor="middle" fill="#222" font-weight="bold">Isoform fraction</text>
<line x1="55.40" y1="371.50" x2="55.40" y2="374.70" stroke="#222" stroke-width="0.9"/>
<text transform="translate(55.40,381.60) scale(1,1.12)" font-size="5.8" text-anchor="middle" fill="#222" font-weight="bold" font-style="italic" >ATP9B_207</text>
<line x1="95.60" y1="371.50" x2="95.60" y2="374.70" stroke="#222" stroke-width="0.9"/>
<text transform="translate(95.60,381.60) scale(1,1.12)" font-size="5.8" text-anchor="middle" fill="#222" font-weight="bold" font-style="italic" >ATP9B_208</text>
<text transform="translate(75.85,390.90) scale(1,1.1)" font-size="6.2" text-anchor="middle" fill="#222" font-weight="bold" font-style="normal" >Isoforms</text>
<text transform="translate(71.25,270.00) scale(1.058,1)" font-size="7.7" text-anchor="middle" fill="#1e1e1e" font-weight="normal" font-style="normal" >Isoform switching of <tspan font-style="italic">ATP9B</tspan></text>
<text transform="translate(70.95,279.80) scale(1.058,1)" font-size="7.7" text-anchor="middle" fill="#1e1e1e" font-weight="normal" font-style="normal" >(qRT-PCR)</text>
<polyline points="55,309.5 55,305.79999999999995 96.7,305.79999999999995 96.7,309.5" fill="none" stroke="#222" stroke-width="1.3"/>
<line x1="46.60" y1="309.50" x2="67.80" y2="309.50" stroke="#222" stroke-width="1.3"/>
<line x1="83.60" y1="309.50" x2="105.50" y2="309.50" stroke="#222" stroke-width="1.3"/>
<text transform="translate(75.00,302.20) scale(1,1.08)" font-size="5.1" text-anchor="middle" fill="#333" font-weight="normal" font-style="normal" ><tspan font-style="italic">P</tspan> = 0.021</text>
<rect x="148.50" y="308.50" width="9.00" height="63.00" fill="#fff" stroke="#1a1a1a" stroke-width="1.0"/>
<line x1="153.05" y1="308.58" x2="153.05" y2="306.34" stroke="#444" stroke-width="0.8"/>
<line x1="150.65" y1="306.34" x2="155.45" y2="306.34" stroke="#444" stroke-width="0.8"/>
<line x1="153.05" y1="308.58" x2="153.05" y2="310.08" stroke="#444" stroke-width="0.8"/>
<line x1="150.65" y1="310.08" x2="155.45" y2="310.08" stroke="#444" stroke-width="0.8"/>
<rect x="163.00" y="335.92" width="10.00" height="35.58" fill="#1a1a1a" stroke="none" stroke-width="1"/>
<line x1="168.00" y1="335.92" x2="168.00" y2="331.43" stroke="#444" stroke-width="0.8"/>
<line x1="165.60" y1="331.43" x2="170.40" y2="331.43" stroke="#444" stroke-width="0.8"/>
<rect x="188.50" y="359.50" width="9.00" height="12.00" fill="#fff" stroke="#1a1a1a" stroke-width="1.0"/>
<line x1="193.10" y1="359.89" x2="193.10" y2="357.27" stroke="#444" stroke-width="0.8"/>
<line x1="190.70" y1="357.27" x2="195.50" y2="357.27" stroke="#444" stroke-width="0.8"/>
<line x1="193.10" y1="359.89" x2="193.10" y2="362.51" stroke="#444" stroke-width="0.8"/>
<line x1="190.70" y1="362.51" x2="195.50" y2="362.51" stroke="#444" stroke-width="0.8"/>
<rect x="203.00" y="332.55" width="10.00" height="38.95" fill="#1a1a1a" stroke="none" stroke-width="1"/>
<line x1="208.00" y1="332.55" x2="208.00" y2="328.06" stroke="#444" stroke-width="0.8"/>
<line x1="205.60" y1="328.06" x2="210.40" y2="328.06" stroke="#444" stroke-width="0.8"/>
<line x1="142.50" y1="296.10" x2="142.50" y2="372.00" stroke="#222" stroke-width="1.0"/>
<line x1="142.00" y1="371.50" x2="218.00" y2="371.50" stroke="#222" stroke-width="1.0"/>
<line x1="139.50" y1="371.50" x2="142.50" y2="371.50" stroke="#222" stroke-width="0.9"/>
<line x1="140.90" y1="364.01" x2="142.50" y2="364.01" stroke="#222" stroke-width="0.9"/>
<line x1="140.90" y1="356.52" x2="142.50" y2="356.52" stroke="#222" stroke-width="0.9"/>
<line x1="140.90" y1="349.03" x2="142.50" y2="349.03" stroke="#222" stroke-width="0.9"/>
<line x1="140.90" y1="341.54" x2="142.50" y2="341.54" stroke="#222" stroke-width="0.9"/>
<line x1="139.50" y1="334.05" x2="142.50" y2="334.05" stroke="#222" stroke-width="0.9"/>
<line x1="140.90" y1="326.56" x2="142.50" y2="326.56" stroke="#222" stroke-width="0.9"/>
<line x1="140.90" y1="319.07" x2="142.50" y2="319.07" stroke="#222" stroke-width="0.9"/>
<line x1="140.90" y1="311.58" x2="142.50" y2="311.58" stroke="#222" stroke-width="0.9"/>
<line x1="140.90" y1="304.09" x2="142.50" y2="304.09" stroke="#222" stroke-width="0.9"/>
<line x1="139.50" y1="296.60" x2="142.50" y2="296.60" stroke="#222" stroke-width="0.9"/>
<text x="138.90" y="373.50" font-size="5.6" text-anchor="end" fill="#222" font-weight="bold" font-style="normal" >0.0</text>
<text x="138.90" y="336.05" font-size="5.6" text-anchor="end" fill="#222" font-weight="bold" font-style="normal" >0.5</text>
<text x="138.90" y="298.60" font-size="5.6" text-anchor="end" fill="#222" font-weight="bold" font-style="normal" >1.0</text>
<text transform="translate(128.10,334.05) rotate(-90) scale(1,1.1)" font-size="6.2" text-anchor="middle" fill="#222" font-weight="bold">Isoform fraction</text>
<line x1="160.10" y1="371.50" x2="160.10" y2="374.70" stroke="#222" stroke-width="0.9"/>
<text transform="translate(160.10,381.60) scale(1,1.12)" font-size="5.8" text-anchor="middle" fill="#222" font-weight="bold" font-style="italic" >HM13_221</text>
<line x1="200.30" y1="371.50" x2="200.30" y2="374.70" stroke="#222" stroke-width="0.9"/>
<text transform="translate(200.30,381.60) scale(1,1.12)" font-size="5.8" text-anchor="middle" fill="#222" font-weight="bold" font-style="italic" >HM13_201</text>
<text transform="translate(180.25,390.90) scale(1,1.1)" font-size="6.2" text-anchor="middle" fill="#222" font-weight="bold" font-style="normal" >Isoforms</text>
<text transform="translate(179.25,270.00) scale(1.058,1)" font-size="7.7" text-anchor="middle" fill="#1e1e1e" font-weight="normal" font-style="normal" >Isoform switching of <tspan font-style="italic">HM13</tspan></text>
<text transform="translate(179.25,279.80) scale(1.058,1)" font-size="7.7" text-anchor="middle" fill="#1e1e1e" font-weight="normal" font-style="normal" >(qRT-PCR)</text>
<polyline points="159.8,297.9 159.8,294.2 200.6,294.2 200.6,297.9" fill="none" stroke="#222" stroke-width="1.3"/>
<line x1="151.30" y1="297.90" x2="173.00" y2="297.90" stroke="#222" stroke-width="1.3"/>
<line x1="188.30" y1="297.90" x2="209.60" y2="297.90" stroke="#222" stroke-width="1.3"/>
<text transform="translate(180.20,291.10) scale(1,1.08)" font-size="5.1" text-anchor="middle" fill="#333" font-weight="normal" font-style="normal" ><tspan font-style="italic">P</tspan> &lt; 0.001</text>
<rect x="251.50" y="337.50" width="9.00" height="34.00" fill="#fff" stroke="#1a1a1a" stroke-width="1.0"/>
<line x1="255.75" y1="337.93" x2="255.75" y2="331.96" stroke="#444" stroke-width="0.8"/>
<line x1="253.35" y1="331.96" x2="258.15" y2="331.96" stroke="#444" stroke-width="0.8"/>
<line x1="255.75" y1="337.93" x2="255.75" y2="343.15" stroke="#444" stroke-width="0.8"/>
<line x1="253.35" y1="343.15" x2="258.15" y2="343.15" stroke="#444" stroke-width="0.8"/>
<rect x="265.00" y="323.01" width="9.00" height="48.49" fill="#1a1a1a" stroke="none" stroke-width="1"/>
<line x1="269.40" y1="323.01" x2="269.40" y2="320.03" stroke="#444" stroke-width="0.8"/>
<line x1="267.00" y1="320.03" x2="271.80" y2="320.03" stroke="#444" stroke-width="0.8"/>
<rect x="287.50" y="361.50" width="9.00" height="10.00" fill="#fff" stroke="#1a1a1a" stroke-width="1.0"/>
<line x1="291.75" y1="361.06" x2="291.75" y2="358.82" stroke="#444" stroke-width="0.8"/>
<line x1="289.35" y1="358.82" x2="294.15" y2="358.82" stroke="#444" stroke-width="0.8"/>
<line x1="291.75" y1="361.06" x2="291.75" y2="363.29" stroke="#444" stroke-width="0.8"/>
<line x1="289.35" y1="363.29" x2="294.15" y2="363.29" stroke="#444" stroke-width="0.8"/>
<rect x="301.00" y="352.85" width="9.00" height="18.65" fill="#1a1a1a" stroke="none" stroke-width="1"/>
<line x1="305.35" y1="352.85" x2="305.35" y2="349.12" stroke="#444" stroke-width="0.8"/>
<line x1="302.95" y1="349.12" x2="307.75" y2="349.12" stroke="#444" stroke-width="0.8"/>
<rect x="323.50" y="334.50" width="9.00" height="37.00" fill="#fff" stroke="#1a1a1a" stroke-width="1.0"/>
<line x1="327.70" y1="334.20" x2="327.70" y2="325.99" stroke="#444" stroke-width="0.8"/>
<line x1="325.30" y1="325.99" x2="330.10" y2="325.99" stroke="#444" stroke-width="0.8"/>
<line x1="327.70" y1="334.20" x2="327.70" y2="342.41" stroke="#444" stroke-width="0.8"/>
<line x1="325.30" y1="342.41" x2="330.10" y2="342.41" stroke="#444" stroke-width="0.8"/>
<rect x="337.00" y="358.07" width="9.00" height="13.43" fill="#1a1a1a" stroke="none" stroke-width="1"/>
<line x1="341.25" y1="358.07" x2="341.25" y2="354.34" stroke="#444" stroke-width="0.8"/>
<line x1="338.85" y1="354.34" x2="343.65" y2="354.34" stroke="#444" stroke-width="0.8"/>
<line x1="246.50" y1="296.40" x2="246.50" y2="372.00" stroke="#222" stroke-width="1.0"/>
<line x1="246.00" y1="371.50" x2="350.50" y2="371.50" stroke="#222" stroke-width="1.0"/>
<line x1="243.50" y1="371.50" x2="246.50" y2="371.50" stroke="#222" stroke-width="0.9"/>
<line x1="244.90" y1="364.04" x2="246.50" y2="364.04" stroke="#222" stroke-width="0.9"/>
<line x1="244.90" y1="356.58" x2="246.50" y2="356.58" stroke="#222" stroke-width="0.9"/>
<line x1="244.90" y1="349.12" x2="246.50" y2="349.12" stroke="#222" stroke-width="0.9"/>
<line x1="244.90" y1="341.66" x2="246.50" y2="341.66" stroke="#222" stroke-width="0.9"/>
<line x1="243.50" y1="334.20" x2="246.50" y2="334.20" stroke="#222" stroke-width="0.9"/>
<line x1="244.90" y1="326.74" x2="246.50" y2="326.74" stroke="#222" stroke-width="0.9"/>
<line x1="244.90" y1="319.28" x2="246.50" y2="319.28" stroke="#222" stroke-width="0.9"/>
<line x1="244.90" y1="311.82" x2="246.50" y2="311.82" stroke="#222" stroke-width="0.9"/>
<line x1="244.90" y1="304.36" x2="246.50" y2="304.36" stroke="#222" stroke-width="0.9"/>
<line x1="243.50" y1="296.90" x2="246.50" y2="296.90" stroke="#222" stroke-width="0.9"/>
<text x="242.90" y="373.50" font-size="5.6" text-anchor="end" fill="#222" font-weight="bold" font-style="normal" >0.0</text>
<text x="242.90" y="336.20" font-size="5.6" text-anchor="end" fill="#222" font-weight="bold" font-style="normal" >0.5</text>
<text x="242.90" y="298.90" font-size="5.6" text-anchor="end" fill="#222" font-weight="bold" font-style="normal" >1.0</text>
<text transform="translate(231.10,334.20) rotate(-90) scale(1,1.1)" font-size="6.2" text-anchor="middle" fill="#222" font-weight="bold">Isoform fraction</text>
<line x1="262.40" y1="371.50" x2="262.40" y2="374.70" stroke="#222" stroke-width="0.9"/>
<text transform="translate(262.40,381.60) scale(1,1.12)" font-size="5.8" text-anchor="middle" fill="#222" font-weight="bold" font-style="italic" >KIF16B_203</text>
<line x1="298.30" y1="371.50" x2="298.30" y2="374.70" stroke="#222" stroke-width="0.9"/>
<text transform="translate(298.30,381.60) scale(1,1.12)" font-size="5.8" text-anchor="middle" fill="#222" font-weight="bold" font-style="italic" >KIF16B_201</text>
<line x1="334.60" y1="371.50" x2="334.60" y2="374.70" stroke="#222" stroke-width="0.9"/>
<text transform="translate(334.60,381.60) scale(1,1.12)" font-size="5.8" text-anchor="middle" fill="#222" font-weight="bold" font-style="italic" >KIF16B_205</text>
<text transform="translate(298.50,390.90) scale(1,1.1)" font-size="6.2" text-anchor="middle" fill="#222" font-weight="bold" font-style="normal" >Isoforms</text>
<text transform="translate(297.50,270.00) scale(1.058,1)" font-size="7.7" text-anchor="middle" fill="#1e1e1e" font-weight="normal" font-style="normal" >Isoform switching of <tspan font-style="italic">KIF16B</tspan></text>
<text transform="translate(298.00,279.80) scale(1.058,1)" font-size="7.7" text-anchor="middle" fill="#1e1e1e" font-weight="normal" font-style="normal" >(qRT-PCR)</text>
<line x1="256.80" y1="313.00" x2="268.90" y2="313.00" stroke="#222" stroke-width="1.3"/>
<text transform="translate(262.80,309.70) scale(1,1.08)" font-size="5.1" text-anchor="middle" fill="#333" font-weight="normal" font-style="normal" >P=0.021</text>
<line x1="292.20" y1="337.00" x2="303.20" y2="337.00" stroke="#222" stroke-width="1.3"/>
<text transform="translate(297.40,333.90) scale(1,1.08)" font-size="5.1" text-anchor="middle" fill="#333" font-weight="normal" font-style="normal" >P=0.031</text>
<line x1="328.10" y1="316.50" x2="340.00" y2="316.50" stroke="#222" stroke-width="1.3"/>
<text transform="translate(334.20,313.20) scale(1,1.08)" font-size="5.1" text-anchor="middle" fill="#333" font-weight="normal" font-style="normal" >P=0.009</text>
<rect x="388.50" y="332.50" width="9.00" height="39.00" fill="#fff" stroke="#1a1a1a" stroke-width="1.0"/>
<line x1="392.90" y1="332.76" x2="392.90" y2="327.55" stroke="#444" stroke-width="0.8"/>
<line x1="390.50" y1="327.55" x2="395.30" y2="327.55" stroke="#444" stroke-width="0.8"/>
<line x1="392.90" y1="332.76" x2="392.90" y2="337.23" stroke="#444" stroke-width="0.8"/>
<line x1="390.50" y1="337.23" x2="395.30" y2="337.23" stroke="#444" stroke-width="0.8"/>
<rect x="403.00" y="314.88" width="9.00" height="56.62" fill="#1a1a1a" stroke="none" stroke-width="1"/>
<line x1="407.65" y1="314.88" x2="407.65" y2="309.67" stroke="#444" stroke-width="0.8"/>
<line x1="405.25" y1="309.67" x2="410.05" y2="309.67" stroke="#444" stroke-width="0.8"/>
<rect x="427.50" y="336.50" width="10.00" height="35.00" fill="#fff" stroke="#1a1a1a" stroke-width="1.0"/>
<line x1="432.30" y1="336.86" x2="432.30" y2="331.27" stroke="#444" stroke-width="0.8"/>
<line x1="429.90" y1="331.27" x2="434.70" y2="331.27" stroke="#444" stroke-width="0.8"/>
<line x1="432.30" y1="336.86" x2="432.30" y2="341.70" stroke="#444" stroke-width="0.8"/>
<line x1="429.90" y1="341.70" x2="434.70" y2="341.70" stroke="#444" stroke-width="0.8"/>
<rect x="442.00" y="355.11" width="10.00" height="16.39" fill="#1a1a1a" stroke="none" stroke-width="1"/>
<line x1="447.15" y1="355.11" x2="447.15" y2="349.89" stroke="#444" stroke-width="0.8"/>
<line x1="444.75" y1="349.89" x2="449.55" y2="349.89" stroke="#444" stroke-width="0.8"/>
<line x1="382.50" y1="296.50" x2="382.50" y2="372.00" stroke="#222" stroke-width="1.0"/>
<line x1="382.00" y1="371.50" x2="456.80" y2="371.50" stroke="#222" stroke-width="1.0"/>
<line x1="379.50" y1="371.50" x2="382.50" y2="371.50" stroke="#222" stroke-width="0.9"/>
<line x1="380.90" y1="364.05" x2="382.50" y2="364.05" stroke="#222" stroke-width="0.9"/>
<line x1="380.90" y1="356.60" x2="382.50" y2="356.60" stroke="#222" stroke-width="0.9"/>
<line x1="380.90" y1="349.15" x2="382.50" y2="349.15" stroke="#222" stroke-width="0.9"/>
<line x1="380.90" y1="341.70" x2="382.50" y2="341.70" stroke="#222" stroke-width="0.9"/>
<line x1="379.50" y1="334.25" x2="382.50" y2="334.25" stroke="#222" stroke-width="0.9"/>
<line x1="380.90" y1="326.80" x2="382.50" y2="326.80" stroke="#222" stroke-width="0.9"/>
<line x1="380.90" y1="319.35" x2="382.50" y2="319.35" stroke="#222" stroke-width="0.9"/>
<line x1="380.90" y1="311.90" x2="382.50" y2="311.90" stroke="#222" stroke-width="0.9"/>
<line x1="380.90" y1="304.45" x2="382.50" y2="304.45" stroke="#222" stroke-width="0.9"/>
<line x1="379.50" y1="297.00" x2="382.50" y2="297.00" stroke="#222" stroke-width="0.9"/>
<text x="378.90" y="373.50" font-size="5.6" text-anchor="end" fill="#222" font-weight="bold" font-style="normal" >0.0</text>
<text x="378.90" y="336.25" font-size="5.6" text-anchor="end" fill="#222" font-weight="bold" font-style="normal" >0.5</text>
<text x="378.90" y="299.00" font-size="5.6" text-anchor="end" fill="#222" font-weight="bold" font-style="normal" >1.0</text>
<text transform="translate(367.60,334.25) rotate(-90) scale(1,1.1)" font-size="6.2" text-anchor="middle" fill="#222" font-weight="bold">Isoform fraction</text>
<line x1="399.80" y1="371.50" x2="399.80" y2="374.70" stroke="#222" stroke-width="0.9"/>
<text transform="translate(399.80,381.60) scale(1,1.12)" font-size="5.8" text-anchor="middle" fill="#222" font-weight="bold" font-style="italic" >KRAS4A</text>
<line x1="439.60" y1="371.50" x2="439.60" y2="374.70" stroke="#222" stroke-width="0.9"/>
<text transform="translate(439.60,381.60) scale(1,1.12)" font-size="5.8" text-anchor="middle" fill="#222" font-weight="bold" font-style="italic" >KRAS4B</text>
<text transform="translate(419.65,390.90) scale(1,1.1)" font-size="6.2" text-anchor="middle" fill="#222" font-weight="bold" font-style="normal" >Isoforms</text>
<text transform="translate(415.00,270.00) scale(1.058,1)" font-size="7.7" text-anchor="middle" fill="#1e1e1e" font-weight="normal" font-style="normal" >Isoform switching of <tspan font-style="italic">KRAS</tspan></text>
<text transform="translate(415.00,279.80) scale(1.058,1)" font-size="7.7" text-anchor="middle" fill="#1e1e1e" font-weight="normal" font-style="normal" >(qRT-PCR)</text>
<polyline points="399.5,298.59999999999997 399.5,295.0 440.4,295.0 440.4,298.59999999999997" fill="none" stroke="#222" stroke-width="1.3"/>
<line x1="391.40" y1="298.60" x2="412.30" y2="298.60" stroke="#222" stroke-width="1.3"/>
<line x1="427.90" y1="298.60" x2="449.20" y2="298.60" stroke="#222" stroke-width="1.3"/>
<text transform="translate(419.90,292.10) scale(1,1.08)" font-size="5.1" text-anchor="middle" fill="#333" font-weight="normal" font-style="normal" ><tspan font-style="italic">P</tspan> = 0.013</text>
<rect x="494.50" y="339.50" width="9.00" height="32.00" fill="#fff" stroke="#1a1a1a" stroke-width="1.0"/>
<line x1="499.00" y1="339.64" x2="499.00" y2="335.19" stroke="#444" stroke-width="0.8"/>
<line x1="496.60" y1="335.19" x2="501.40" y2="335.19" stroke="#444" stroke-width="0.8"/>
<line x1="499.00" y1="339.64" x2="499.00" y2="343.34" stroke="#444" stroke-width="0.8"/>
<line x1="496.60" y1="343.34" x2="501.40" y2="343.34" stroke="#444" stroke-width="0.8"/>
<rect x="509.00" y="312.96" width="10.00" height="58.54" fill="#1a1a1a" stroke="none" stroke-width="1"/>
<line x1="513.80" y1="312.96" x2="513.80" y2="307.77" stroke="#444" stroke-width="0.8"/>
<line x1="511.40" y1="307.77" x2="516.20" y2="307.77" stroke="#444" stroke-width="0.8"/>
<rect x="533.50" y="330.50" width="10.00" height="41.00" fill="#fff" stroke="#1a1a1a" stroke-width="1.0"/>
<line x1="538.70" y1="330.37" x2="538.70" y2="326.30" stroke="#444" stroke-width="0.8"/>
<line x1="536.30" y1="326.30" x2="541.10" y2="326.30" stroke="#444" stroke-width="0.8"/>
<line x1="538.70" y1="330.37" x2="538.70" y2="333.71" stroke="#444" stroke-width="0.8"/>
<line x1="536.30" y1="333.71" x2="541.10" y2="333.71" stroke="#444" stroke-width="0.8"/>
<rect x="549.00" y="356.68" width="9.00" height="14.82" fill="#1a1a1a" stroke="none" stroke-width="1"/>
<line x1="553.60" y1="356.68" x2="553.60" y2="351.49" stroke="#444" stroke-width="0.8"/>
<line x1="551.20" y1="351.49" x2="556.00" y2="351.49" stroke="#444" stroke-width="0.8"/>
<line x1="489.50" y1="296.90" x2="489.50" y2="372.00" stroke="#222" stroke-width="1.0"/>
<line x1="489.00" y1="371.50" x2="562.80" y2="371.50" stroke="#222" stroke-width="1.0"/>
<line x1="486.50" y1="371.50" x2="489.50" y2="371.50" stroke="#222" stroke-width="0.9"/>
<line x1="487.90" y1="364.09" x2="489.50" y2="364.09" stroke="#222" stroke-width="0.9"/>
<line x1="487.90" y1="356.68" x2="489.50" y2="356.68" stroke="#222" stroke-width="0.9"/>
<line x1="487.90" y1="349.27" x2="489.50" y2="349.27" stroke="#222" stroke-width="0.9"/>
<line x1="487.90" y1="341.86" x2="489.50" y2="341.86" stroke="#222" stroke-width="0.9"/>
<line x1="486.50" y1="334.45" x2="489.50" y2="334.45" stroke="#222" stroke-width="0.9"/>
<line x1="487.90" y1="327.04" x2="489.50" y2="327.04" stroke="#222" stroke-width="0.9"/>
<line x1="487.90" y1="319.63" x2="489.50" y2="319.63" stroke="#222" stroke-width="0.9"/>
<line x1="487.90" y1="312.22" x2="489.50" y2="312.22" stroke="#222" stroke-width="0.9"/>
<line x1="487.90" y1="304.81" x2="489.50" y2="304.81" stroke="#222" stroke-width="0.9"/>
<line x1="486.50" y1="297.40" x2="489.50" y2="297.40" stroke="#222" stroke-width="0.9"/>
<text x="485.90" y="373.50" font-size="5.6" text-anchor="end" fill="#222" font-weight="bold" font-style="normal" >0.0</text>
<text x="485.90" y="336.45" font-size="5.6" text-anchor="end" fill="#222" font-weight="bold" font-style="normal" >0.5</text>
<text x="485.90" y="299.40" font-size="5.6" text-anchor="end" fill="#222" font-weight="bold" font-style="normal" >1.0</text>
<text transform="translate(474.30,334.45) rotate(-90) scale(1,1.1)" font-size="6.2" text-anchor="middle" fill="#222" font-weight="bold">Isoform fraction</text>
<line x1="506.60" y1="371.50" x2="506.60" y2="374.70" stroke="#222" stroke-width="0.9"/>
<text transform="translate(506.60,381.60) scale(1,1.12)" font-size="5.8" text-anchor="middle" fill="#222" font-weight="bold" font-style="italic" >TRIM29_201</text>
<line x1="546.70" y1="371.50" x2="546.70" y2="374.70" stroke="#222" stroke-width="0.9"/>
<text transform="translate(546.70,381.60) scale(1,1.12)" font-size="5.8" text-anchor="middle" fill="#222" font-weight="bold" font-style="italic" >TRIM29_218</text>
<text transform="translate(526.15,390.90) scale(1,1.1)" font-size="6.2" text-anchor="middle" fill="#222" font-weight="bold" font-style="normal" >Isoforms</text>
<text transform="translate(522.90,270.00) scale(1.058,1)" font-size="7.7" text-anchor="middle" fill="#1e1e1e" font-weight="normal" font-style="normal" >Isoform switching of <tspan font-style="italic">TRIM29</tspan></text>
<text transform="translate(523.00,279.80) scale(1.058,1)" font-size="7.7" text-anchor="middle" fill="#1e1e1e" font-weight="normal" font-style="normal" >(qRT-PCR)</text>
<polyline points="506.2,298.59999999999997 506.2,295.0 547.2,295.0 547.2,298.59999999999997" fill="none" stroke="#222" stroke-width="1.3"/>
<line x1="497.70" y1="298.60" x2="519.10" y2="298.60" stroke="#222" stroke-width="1.3"/>
<line x1="534.20" y1="298.60" x2="556.00" y2="298.60" stroke="#222" stroke-width="1.3"/>
<text transform="translate(526.30,292.40) scale(1,1.08)" font-size="5.1" text-anchor="middle" fill="#333" font-weight="normal" font-style="normal" ><tspan font-style="italic">P</tspan> &lt; 0.001</text>
<rect x="604.50" y="339.50" width="10.00" height="32.00" fill="#fff" stroke="#1a1a1a" stroke-width="1.0"/>
<line x1="609.20" y1="339.12" x2="609.20" y2="330.28" stroke="#444" stroke-width="0.8"/>
<line x1="606.80" y1="330.28" x2="611.60" y2="330.28" stroke="#444" stroke-width="0.8"/>
<line x1="609.20" y1="339.12" x2="609.20" y2="347.21" stroke="#444" stroke-width="0.8"/>
<line x1="606.80" y1="347.21" x2="611.60" y2="347.21" stroke="#444" stroke-width="0.8"/>
<rect x="619.00" y="305.26" width="10.00" height="66.24" fill="#1a1a1a" stroke="none" stroke-width="1"/>
<line x1="623.90" y1="305.26" x2="623.90" y2="303.05" stroke="#444" stroke-width="0.8"/>
<line x1="621.50" y1="303.05" x2="626.30" y2="303.05" stroke="#444" stroke-width="0.8"/>
<rect x="644.50" y="331.50" width="9.00" height="40.00" fill="#fff" stroke="#1a1a1a" stroke-width="1.0"/>
<line x1="648.90" y1="331.02" x2="648.90" y2="322.19" stroke="#444" stroke-width="0.8"/>
<line x1="646.50" y1="322.19" x2="651.30" y2="322.19" stroke="#444" stroke-width="0.8"/>
<line x1="648.90" y1="331.02" x2="648.90" y2="339.12" stroke="#444" stroke-width="0.8"/>
<line x1="646.50" y1="339.12" x2="651.30" y2="339.12" stroke="#444" stroke-width="0.8"/>
<rect x="659.00" y="364.88" width="9.00" height="6.62" fill="#1a1a1a" stroke="none" stroke-width="1"/>
<line x1="663.60" y1="364.88" x2="663.60" y2="361.93" stroke="#444" stroke-width="0.8"/>
<line x1="661.20" y1="361.93" x2="666.00" y2="361.93" stroke="#444" stroke-width="0.8"/>
<line x1="599.50" y1="297.40" x2="599.50" y2="372.00" stroke="#222" stroke-width="1.0"/>
<line x1="599.00" y1="371.50" x2="672.70" y2="371.50" stroke="#222" stroke-width="1.0"/>
<line x1="596.50" y1="371.50" x2="599.50" y2="371.50" stroke="#222" stroke-width="0.9"/>
<line x1="597.90" y1="364.14" x2="599.50" y2="364.14" stroke="#222" stroke-width="0.9"/>
<line x1="597.90" y1="356.78" x2="599.50" y2="356.78" stroke="#222" stroke-width="0.9"/>
<line x1="597.90" y1="349.42" x2="599.50" y2="349.42" stroke="#222" stroke-width="0.9"/>
<line x1="597.90" y1="342.06" x2="599.50" y2="342.06" stroke="#222" stroke-width="0.9"/>
<line x1="596.50" y1="334.70" x2="599.50" y2="334.70" stroke="#222" stroke-width="0.9"/>
<line x1="597.90" y1="327.34" x2="599.50" y2="327.34" stroke="#222" stroke-width="0.9"/>
<line x1="597.90" y1="319.98" x2="599.50" y2="319.98" stroke="#222" stroke-width="0.9"/>
<line x1="597.90" y1="312.62" x2="599.50" y2="312.62" stroke="#222" stroke-width="0.9"/>
<line x1="597.90" y1="305.26" x2="599.50" y2="305.26" stroke="#222" stroke-width="0.9"/>
<line x1="596.50" y1="297.90" x2="599.50" y2="297.90" stroke="#222" stroke-width="0.9"/>
<text x="595.90" y="373.50" font-size="5.6" text-anchor="end" fill="#222" font-weight="bold" font-style="normal" >0.0</text>
<text x="595.90" y="336.70" font-size="5.6" text-anchor="end" fill="#222" font-weight="bold" font-style="normal" >0.5</text>
<text x="595.90" y="299.90" font-size="5.6" text-anchor="end" fill="#222" font-weight="bold" font-style="normal" >1.0</text>
<text transform="translate(585.70,334.70) rotate(-90) scale(1,1.1)" font-size="6.2" text-anchor="middle" fill="#222" font-weight="bold">Isoform fraction</text>
<line x1="616.50" y1="371.50" x2="616.50" y2="374.70" stroke="#222" stroke-width="0.9"/>
<text transform="translate(616.50,381.60) scale(1,1.12)" font-size="5.8" text-anchor="middle" fill="#222" font-weight="bold" font-style="italic" >TTLL12_201</text>
<line x1="656.50" y1="371.50" x2="656.50" y2="374.70" stroke="#222" stroke-width="0.9"/>
<text transform="translate(656.50,381.60) scale(1,1.12)" font-size="5.8" text-anchor="middle" fill="#222" font-weight="bold" font-style="italic" >TTLL12_204</text>
<text transform="translate(636.10,390.90) scale(1,1.1)" font-size="6.2" text-anchor="middle" fill="#222" font-weight="bold" font-style="normal" >Isoforms</text>
<text transform="translate(633.00,270.00) scale(1.058,1)" font-size="7.7" text-anchor="middle" fill="#1e1e1e" font-weight="normal" font-style="normal" >Isoform switching of <tspan font-style="italic">TTLL12</tspan></text>
<text transform="translate(633.00,279.80) scale(1.058,1)" font-size="7.7" text-anchor="middle" fill="#1e1e1e" font-weight="normal" font-style="normal" >(qRT-PCR)</text>
<polyline points="616.5,299.7 616.5,295.79999999999995 656.8,295.79999999999995 656.8,299.7" fill="none" stroke="#222" stroke-width="1.3"/>
<line x1="608.30" y1="299.70" x2="628.80" y2="299.70" stroke="#222" stroke-width="1.3"/>
<line x1="644.40" y1="299.70" x2="665.70" y2="299.70" stroke="#222" stroke-width="1.3"/>
<text transform="translate(636.30,293.10) scale(1,1.08)" font-size="5.1" text-anchor="middle" fill="#333" font-weight="normal" font-style="normal" ><tspan font-style="italic">P</tspan> = 0.001</text>
<rect x="43.50" y="509.50" width="9.00" height="15.00" fill="#fff" stroke="#1a1a1a" stroke-width="1.0"/>
<rect x="58.00" y="498.56" width="10.00" height="25.94" fill="#1a1a1a" stroke="none" stroke-width="1"/>
<rect x="83.50" y="491.50" width="9.00" height="33.00" fill="#fff" stroke="#1a1a1a" stroke-width="1.0"/>
<rect x="98.00" y="501.53" width="10.00" height="22.97" fill="#1a1a1a" stroke="none" stroke-width="1"/>
<line x1="38.50" y1="449.90" x2="38.50" y2="525.00" stroke="#222" stroke-width="1.0"/>
<line x1="38.00" y1="524.50" x2="113.20" y2="524.50" stroke="#222" stroke-width="1.0"/>
<line x1="35.50" y1="524.50" x2="38.50" y2="524.50" stroke="#222" stroke-width="0.9"/>
<line x1="36.90" y1="517.09" x2="38.50" y2="517.09" stroke="#222" stroke-width="0.9"/>
<line x1="36.90" y1="509.68" x2="38.50" y2="509.68" stroke="#222" stroke-width="0.9"/>
<line x1="36.90" y1="502.27" x2="38.50" y2="502.27" stroke="#222" stroke-width="0.9"/>
<line x1="36.90" y1="494.86" x2="38.50" y2="494.86" stroke="#222" stroke-width="0.9"/>
<line x1="35.50" y1="487.45" x2="38.50" y2="487.45" stroke="#222" stroke-width="0.9"/>
<line x1="36.90" y1="480.04" x2="38.50" y2="480.04" stroke="#222" stroke-width="0.9"/>
<line x1="36.90" y1="472.63" x2="38.50" y2="472.63" stroke="#222" stroke-width="0.9"/>
<line x1="36.90" y1="465.22" x2="38.50" y2="465.22" stroke="#222" stroke-width="0.9"/>
<line x1="36.90" y1="457.81" x2="38.50" y2="457.81" stroke="#222" stroke-width="0.9"/>
<line x1="35.50" y1="450.40" x2="38.50" y2="450.40" stroke="#222" stroke-width="0.9"/>
<text x="34.90" y="526.50" font-size="5.6" text-anchor="end" fill="#222" font-weight="bold" font-style="normal" >0.0</text>
<text x="34.90" y="489.45" font-size="5.6" text-anchor="end" fill="#222" font-weight="bold" font-style="normal" >0.5</text>
<text x="34.90" y="452.40" font-size="5.6" text-anchor="end" fill="#222" font-weight="bold" font-style="normal" >1.0</text>
<text transform="translate(23.20,487.45) rotate(-90) scale(1,1.1)" font-size="6.2" text-anchor="middle" fill="#222" font-weight="bold">Isoform fraction</text>
<line x1="55.20" y1="524.50" x2="55.20" y2="527.70" stroke="#222" stroke-width="0.9"/>
<text transform="translate(55.20,535.00) scale(1,1.12)" font-size="5.8" text-anchor="middle" fill="#222" font-weight="bold" font-style="italic" >ATP9B_207</text>
<line x1="95.50" y1="524.50" x2="95.50" y2="527.70" stroke="#222" stroke-width="0.9"/>
<text transform="translate(95.50,535.00) scale(1,1.12)" font-size="5.8" text-anchor="middle" fill="#222" font-weight="bold" font-style="italic" >ATP9B_208</text>
<text transform="translate(75.85,544.30) scale(1,1.1)" font-size="6.2" text-anchor="middle" fill="#222" font-weight="bold" font-style="normal" >Isoforms</text>
<text transform="translate(67.25,426.00) scale(1.058,1)" font-size="7.7" text-anchor="middle" fill="#1e1e1e" font-weight="normal" font-style="normal" >Isoform switching of <tspan font-style="italic">ATP9B</tspan></text>
<text transform="translate(67.20,435.80) scale(1.058,1)" font-size="7.7" text-anchor="middle" fill="#1e1e1e" font-weight="normal" font-style="normal" >(RNA-seq)</text>
<line x1="47.70" y1="488.20" x2="64.30" y2="488.20" stroke="#222" stroke-width="1.3"/>
<text transform="translate(55.80,485.30) scale(1,1.08)" font-size="5.1" text-anchor="middle" fill="#333" font-weight="normal" font-style="normal" >P = 0.002</text>
<line x1="87.40" y1="485.00" x2="104.70" y2="485.00" stroke="#222" stroke-width="1.3"/>
<text transform="translate(95.90,481.60) scale(1,1.08)" font-size="5.1" text-anchor="middle" fill="#333" font-weight="normal" font-style="normal" >P = 0.100</text>
<rect x="148.50" y="497.50" width="9.00" height="27.00" fill="#fff" stroke="#1a1a1a" stroke-width="1.0"/>
<rect x="163.00" y="512.64" width="10.00" height="11.86" fill="#1a1a1a" stroke="none" stroke-width="1"/>
<rect x="188.50" y="493.50" width="9.00" height="31.00" fill="#fff" stroke="#1a1a1a" stroke-width="1.0"/>
<rect x="203.00" y="485.97" width="10.00" height="38.53" fill="#1a1a1a" stroke="none" stroke-width="1"/>
<line x1="142.50" y1="449.90" x2="142.50" y2="525.00" stroke="#222" stroke-width="1.0"/>
<line x1="142.00" y1="524.50" x2="218.00" y2="524.50" stroke="#222" stroke-width="1.0"/>
<line x1="139.50" y1="524.50" x2="142.50" y2="524.50" stroke="#222" stroke-width="0.9"/>
<line x1="140.90" y1="517.09" x2="142.50" y2="517.09" stroke="#222" stroke-width="0.9"/>
<line x1="140.90" y1="509.68" x2="142.50" y2="509.68" stroke="#222" stroke-width="0.9"/>
<line x1="140.90" y1="502.27" x2="142.50" y2="502.27" stroke="#222" stroke-width="0.9"/>
<line x1="140.90" y1="494.86" x2="142.50" y2="494.86" stroke="#222" stroke-width="0.9"/>
<line x1="139.50" y1="487.45" x2="142.50" y2="487.45" stroke="#222" stroke-width="0.9"/>
<line x1="140.90" y1="480.04" x2="142.50" y2="480.04" stroke="#222" stroke-width="0.9"/>
<line x1="140.90" y1="472.63" x2="142.50" y2="472.63" stroke="#222" stroke-width="0.9"/>
<line x1="140.90" y1="465.22" x2="142.50" y2="465.22" stroke="#222" stroke-width="0.9"/>
<line x1="140.90" y1="457.81" x2="142.50" y2="457.81" stroke="#222" stroke-width="0.9"/>
<line x1="139.50" y1="450.40" x2="142.50" y2="450.40" stroke="#222" stroke-width="0.9"/>
<text x="138.90" y="526.50" font-size="5.6" text-anchor="end" fill="#222" font-weight="bold" font-style="normal" >0.0</text>
<text x="138.90" y="489.45" font-size="5.6" text-anchor="end" fill="#222" font-weight="bold" font-style="normal" >0.5</text>
<text x="138.90" y="452.40" font-size="5.6" text-anchor="end" fill="#222" font-weight="bold" font-style="normal" >1.0</text>
<text transform="translate(128.10,487.45) rotate(-90) scale(1,1.1)" font-size="6.2" text-anchor="middle" fill="#222" font-weight="bold">Isoform fraction</text>
<line x1="160.10" y1="524.50" x2="160.10" y2="527.70" stroke="#222" stroke-width="0.9"/>
<text transform="translate(160.10,535.00) scale(1,1.12)" font-size="5.8" text-anchor="middle" fill="#222" font-weight="bold" font-style="italic" >HM13_221</text>
<line x1="200.30" y1="524.50" x2="200.30" y2="527.70" stroke="#222" stroke-width="0.9"/>
<text transform="translate(200.30,535.00) scale(1,1.12)" font-size="5.8" text-anchor="middle" fill="#222" font-weight="bold" font-style="italic" >HM13_201</text>
<text transform="translate(180.25,544.30) scale(1,1.1)" font-size="6.2" text-anchor="middle" fill="#222" font-weight="bold" font-style="normal" >Isoforms</text>
<text transform="translate(175.70,426.00) scale(1.058,1)" font-size="7.7" text-anchor="middle" fill="#1e1e1e" font-weight="normal" font-style="normal" >Isoform switching of <tspan font-style="italic">HM13</tspan></text>
<text transform="translate(175.70,435.80) scale(1.058,1)" font-size="7.7" text-anchor="middle" fill="#1e1e1e" font-weight="normal" font-style="normal" >(RNA-seq)</text>
<line x1="152.90" y1="487.90" x2="171.70" y2="487.90" stroke="#222" stroke-width="1.3"/>
<text transform="translate(162.00,484.90) scale(1,1.08)" font-size="5.1" text-anchor="middle" fill="#333" font-weight="normal" font-style="normal" >P &lt; 0.001</text>
<line x1="190.70" y1="478.10" x2="209.90" y2="478.10" stroke="#222" stroke-width="1.3"/>
<text transform="translate(200.30,474.80) scale(1,1.08)" font-size="5.1" text-anchor="middle" fill="#333" font-weight="normal" font-style="normal" >P = 0.006</text>
<rect x="251.50" y="511.50" width="8.00" height="14.00" fill="#fff" stroke="#1a1a1a" stroke-width="1.0"/>
<rect x="265.00" y="520.23" width="8.00" height="5.27" fill="#1a1a1a" stroke="none" stroke-width="1"/>
<rect x="287.50" y="506.50" width="8.00" height="19.00" fill="#fff" stroke="#1a1a1a" stroke-width="1.0"/>
<rect x="301.00" y="490.86" width="9.00" height="34.64" fill="#1a1a1a" stroke="none" stroke-width="1"/>
<rect x="323.50" y="496.50" width="9.00" height="29.00" fill="#fff" stroke="#1a1a1a" stroke-width="1.0"/>
<rect x="337.00" y="505.92" width="9.00" height="19.58" fill="#1a1a1a" stroke="none" stroke-width="1"/>
<line x1="246.50" y1="449.70" x2="246.50" y2="526.00" stroke="#222" stroke-width="1.0"/>
<line x1="246.00" y1="525.50" x2="350.50" y2="525.50" stroke="#222" stroke-width="1.0"/>
<line x1="243.50" y1="525.50" x2="246.50" y2="525.50" stroke="#222" stroke-width="0.9"/>
<line x1="244.90" y1="517.97" x2="246.50" y2="517.97" stroke="#222" stroke-width="0.9"/>
<line x1="244.90" y1="510.44" x2="246.50" y2="510.44" stroke="#222" stroke-width="0.9"/>
<line x1="244.90" y1="502.91" x2="246.50" y2="502.91" stroke="#222" stroke-width="0.9"/>
<line x1="244.90" y1="495.38" x2="246.50" y2="495.38" stroke="#222" stroke-width="0.9"/>
<line x1="243.50" y1="487.85" x2="246.50" y2="487.85" stroke="#222" stroke-width="0.9"/>
<line x1="244.90" y1="480.32" x2="246.50" y2="480.32" stroke="#222" stroke-width="0.9"/>
<line x1="244.90" y1="472.79" x2="246.50" y2="472.79" stroke="#222" stroke-width="0.9"/>
<line x1="244.90" y1="465.26" x2="246.50" y2="465.26" stroke="#222" stroke-width="0.9"/>
<line x1="244.90" y1="457.73" x2="246.50" y2="457.73" stroke="#222" stroke-width="0.9"/>
<line x1="243.50" y1="450.20" x2="246.50" y2="450.20" stroke="#222" stroke-width="0.9"/>
<text x="242.90" y="527.50" font-size="5.6" text-anchor="end" fill="#222" font-weight="bold" font-style="normal" >0.0</text>
<text x="242.90" y="489.85" font-size="5.6" text-anchor="end" fill="#222" font-weight="bold" font-style="normal" >0.5</text>
<text x="242.90" y="452.20" font-size="5.6" text-anchor="end" fill="#222" font-weight="bold" font-style="normal" >1.0</text>
<text transform="translate(231.10,487.85) rotate(-90) scale(1,1.1)" font-size="6.2" text-anchor="middle" fill="#222" font-weight="bold">Isoform fraction</text>
<line x1="262.40" y1="525.50" x2="262.40" y2="528.70" stroke="#222" stroke-width="0.9"/>
<text transform="translate(262.40,535.00) scale(1,1.12)" font-size="5.8" text-anchor="middle" fill="#222" font-weight="bold" font-style="italic" >KIF16B_202</text>
<line x1="298.30" y1="525.50" x2="298.30" y2="528.70" stroke="#222" stroke-width="0.9"/>
<text transform="translate(298.30,535.00) scale(1,1.12)" font-size="5.8" text-anchor="middle" fill="#222" font-weight="bold" font-style="italic" >KIF16B_201</text>
<line x1="334.60" y1="525.50" x2="334.60" y2="528.70" stroke="#222" stroke-width="0.9"/>
<text transform="translate(334.60,535.00) scale(1,1.12)" font-size="5.8" text-anchor="middle" fill="#222" font-weight="bold" font-style="italic" >KIF16B_205</text>
<text transform="translate(298.50,544.30) scale(1,1.1)" font-size="6.2" text-anchor="middle" fill="#222" font-weight="bold" font-style="normal" >Isoforms</text>
<text transform="translate(294.30,426.00) scale(1.058,1)" font-size="7.7" text-anchor="middle" fill="#1e1e1e" font-weight="normal" font-style="normal" >Isoform switching of <tspan font-style="italic">KIF16B</tspan></text>
<text transform="translate(293.80,435.80) scale(1.058,1)" font-size="7.7" text-anchor="middle" fill="#1e1e1e" font-weight="normal" font-style="normal" >(RNA-seq)</text>
<line x1="253.70" y1="506.20" x2="272.00" y2="506.20" stroke="#222" stroke-width="1.3"/>
<text transform="translate(263.00,503.20) scale(1,1.08)" font-size="5.1" text-anchor="middle" fill="#333" font-weight="normal" font-style="normal" >P = 0.003</text>
<line x1="289.00" y1="484.10" x2="308.00" y2="484.10" stroke="#222" stroke-width="1.3"/>
<text transform="translate(298.30,481.30) scale(1,1.08)" font-size="5.1" text-anchor="middle" fill="#333" font-weight="normal" font-style="normal" >P &lt; 0.001</text>
<line x1="327.20" y1="489.40" x2="345.60" y2="489.40" stroke="#222" stroke-width="1.3"/>
<text transform="translate(336.00,486.60) scale(1,1.08)" font-size="5.1" text-anchor="middle" fill="#333" font-weight="normal" font-style="normal" >P &lt; 0.001</text>
<rect x="387.50" y="494.50" width="10.00" height="30.00" fill="#fff" stroke="#1a1a1a" stroke-width="1.0"/>
<rect x="403.00" y="479.30" width="9.00" height="45.20" fill="#1a1a1a" stroke="none" stroke-width="1"/>
<rect x="427.50" y="482.50" width="10.00" height="42.00" fill="#fff" stroke="#1a1a1a" stroke-width="1.0"/>
<rect x="442.00" y="497.45" width="10.00" height="27.05" fill="#1a1a1a" stroke="none" stroke-width="1"/>
<line x1="382.50" y1="449.90" x2="382.50" y2="525.00" stroke="#222" stroke-width="1.0"/>
<line x1="382.00" y1="524.50" x2="456.80" y2="524.50" stroke="#222" stroke-width="1.0"/>
<line x1="379.50" y1="524.50" x2="382.50" y2="524.50" stroke="#222" stroke-width="0.9"/>
<line x1="380.90" y1="517.09" x2="382.50" y2="517.09" stroke="#222" stroke-width="0.9"/>
<line x1="380.90" y1="509.68" x2="382.50" y2="509.68" stroke="#222" stroke-width="0.9"/>
<line x1="380.90" y1="502.27" x2="382.50" y2="502.27" stroke="#222" stroke-width="0.9"/>
<line x1="380.90" y1="494.86" x2="382.50" y2="494.86" stroke="#222" stroke-width="0.9"/>
<line x1="379.50" y1="487.45" x2="382.50" y2="487.45" stroke="#222" stroke-width="0.9"/>
<line x1="380.90" y1="480.04" x2="382.50" y2="480.04" stroke="#222" stroke-width="0.9"/>
<line x1="380.90" y1="472.63" x2="382.50" y2="472.63" stroke="#222" stroke-width="0.9"/>
<line x1="380.90" y1="465.22" x2="382.50" y2="465.22" stroke="#222" stroke-width="0.9"/>
<line x1="380.90" y1="457.81" x2="382.50" y2="457.81" stroke="#222" stroke-width="0.9"/>
<line x1="379.50" y1="450.40" x2="382.50" y2="450.40" stroke="#222" stroke-width="0.9"/>
<text x="378.90" y="526.50" font-size="5.6" text-anchor="end" fill="#222" font-weight="bold" font-style="normal" >0.0</text>
<text x="378.90" y="489.45" font-size="5.6" text-anchor="end" fill="#222" font-weight="bold" font-style="normal" >0.5</text>
<text x="378.90" y="452.40" font-size="5.6" text-anchor="end" fill="#222" font-weight="bold" font-style="normal" >1.0</text>
<text transform="translate(367.60,487.45) rotate(-90) scale(1,1.1)" font-size="6.2" text-anchor="middle" fill="#222" font-weight="bold">Isoform fraction</text>
<line x1="399.80" y1="524.50" x2="399.80" y2="527.70" stroke="#222" stroke-width="0.9"/>
<text transform="translate(399.80,535.00) scale(1,1.12)" font-size="5.8" text-anchor="middle" fill="#222" font-weight="bold" font-style="italic" >KRAS4A</text>
<line x1="439.60" y1="524.50" x2="439.60" y2="527.70" stroke="#222" stroke-width="0.9"/>
<text transform="translate(439.60,535.00) scale(1,1.12)" font-size="5.8" text-anchor="middle" fill="#222" font-weight="bold" font-style="italic" >KRAS4B</text>
<text transform="translate(419.65,544.30) scale(1,1.1)" font-size="6.2" text-anchor="middle" fill="#222" font-weight="bold" font-style="normal" >Isoforms</text>
<text transform="translate(411.90,426.00) scale(1.058,1)" font-size="7.7" text-anchor="middle" fill="#1e1e1e" font-weight="normal" font-style="normal" >Isoform switching of <tspan font-style="italic">KRAS</tspan></text>
<text transform="translate(411.90,435.80) scale(1.058,1)" font-size="7.7" text-anchor="middle" fill="#1e1e1e" font-weight="normal" font-style="normal" >(RNA-seq)</text>
<line x1="391.40" y1="471.60" x2="409.70" y2="471.60" stroke="#222" stroke-width="1.3"/>
<text transform="translate(400.60,468.40) scale(1,1.08)" font-size="5.1" text-anchor="middle" fill="#333" font-weight="normal" font-style="normal" >P &lt; 0.001</text>
<line x1="432.40" y1="472.60" x2="451.70" y2="472.60" stroke="#222" stroke-width="1.3"/>
<text transform="translate(441.50,469.50) scale(1,1.08)" font-size="5.1" text-anchor="middle" fill="#333" font-weight="normal" font-style="normal" >P &lt; 0.001</text>
<rect x="494.50" y="514.50" width="9.00" height="10.00" fill="#fff" stroke="#1a1a1a" stroke-width="1.0"/>
<rect x="509.00" y="504.49" width="10.00" height="20.01" fill="#1a1a1a" stroke="none" stroke-width="1"/>
<rect x="534.50" y="505.50" width="9.00" height="19.00" fill="#fff" stroke="#1a1a1a" stroke-width="1.0"/>
<rect x="549.00" y="514.87" width="9.00" height="9.63" fill="#1a1a1a" stroke="none" stroke-width="1"/>
<line x1="488.50" y1="449.90" x2="488.50" y2="525.00" stroke="#222" stroke-width="1.0"/>
<line x1="488.00" y1="524.50" x2="564.40" y2="524.50" stroke="#222" stroke-width="1.0"/>
<line x1="485.50" y1="524.50" x2="488.50" y2="524.50" stroke="#222" stroke-width="0.9"/>
<line x1="486.90" y1="517.09" x2="488.50" y2="517.09" stroke="#222" stroke-width="0.9"/>
<line x1="486.90" y1="509.68" x2="488.50" y2="509.68" stroke="#222" stroke-width="0.9"/>
<line x1="486.90" y1="502.27" x2="488.50" y2="502.27" stroke="#222" stroke-width="0.9"/>
<line x1="486.90" y1="494.86" x2="488.50" y2="494.86" stroke="#222" stroke-width="0.9"/>
<line x1="485.50" y1="487.45" x2="488.50" y2="487.45" stroke="#222" stroke-width="0.9"/>
<line x1="486.90" y1="480.04" x2="488.50" y2="480.04" stroke="#222" stroke-width="0.9"/>
<line x1="486.90" y1="472.63" x2="488.50" y2="472.63" stroke="#222" stroke-width="0.9"/>
<line x1="486.90" y1="465.22" x2="488.50" y2="465.22" stroke="#222" stroke-width="0.9"/>
<line x1="486.90" y1="457.81" x2="488.50" y2="457.81" stroke="#222" stroke-width="0.9"/>
<line x1="485.50" y1="450.40" x2="488.50" y2="450.40" stroke="#222" stroke-width="0.9"/>
<text x="484.90" y="526.50" font-size="5.6" text-anchor="end" fill="#222" font-weight="bold" font-style="normal" >0.0</text>
<text x="484.90" y="489.45" font-size="5.6" text-anchor="end" fill="#222" font-weight="bold" font-style="normal" >0.5</text>
<text x="484.90" y="452.40" font-size="5.6" text-anchor="end" fill="#222" font-weight="bold" font-style="normal" >1.0</text>
<text transform="translate(474.30,487.45) rotate(-90) scale(1,1.1)" font-size="6.2" text-anchor="middle" fill="#222" font-weight="bold">Isoform fraction</text>
<line x1="506.60" y1="524.50" x2="506.60" y2="527.70" stroke="#222" stroke-width="0.9"/>
<text transform="translate(506.60,535.00) scale(1,1.12)" font-size="5.8" text-anchor="middle" fill="#222" font-weight="bold" font-style="italic" >TRIM29_201</text>
<line x1="546.70" y1="524.50" x2="546.70" y2="527.70" stroke="#222" stroke-width="0.9"/>
<text transform="translate(546.70,535.00) scale(1,1.12)" font-size="5.8" text-anchor="middle" fill="#222" font-weight="bold" font-style="italic" >TRIM29_218</text>
<text transform="translate(526.45,544.30) scale(1,1.1)" font-size="6.2" text-anchor="middle" fill="#222" font-weight="bold" font-style="normal" >Isoforms</text>
<text transform="translate(519.30,426.00) scale(1.058,1)" font-size="7.7" text-anchor="middle" fill="#1e1e1e" font-weight="normal" font-style="normal" >Isoform switching of <tspan font-style="italic">TRIM29</tspan></text>
<text transform="translate(519.30,435.80) scale(1.058,1)" font-size="7.7" text-anchor="middle" fill="#1e1e1e" font-weight="normal" font-style="normal" >(RNA-seq)</text>
<line x1="497.70" y1="497.20" x2="518.10" y2="497.20" stroke="#222" stroke-width="1.3"/>
<text transform="translate(507.90,494.10) scale(1,1.08)" font-size="5.1" text-anchor="middle" fill="#333" font-weight="normal" font-style="normal" >P = 0.016</text>
<line x1="538.20" y1="497.20" x2="558.30" y2="497.20" stroke="#222" stroke-width="1.3"/>
<text transform="translate(547.80,494.10) scale(1,1.08)" font-size="5.1" text-anchor="middle" fill="#333" font-weight="normal" font-style="normal" >P = 0.003</text>
<rect x="606.50" y="495.50" width="9.00" height="30.00" fill="#fff" stroke="#1a1a1a" stroke-width="1.0"/>
<rect x="621.00" y="483.04" width="9.00" height="42.46" fill="#1a1a1a" stroke="none" stroke-width="1"/>
<rect x="645.50" y="488.50" width="9.00" height="37.00" fill="#fff" stroke="#1a1a1a" stroke-width="1.0"/>
<rect x="660.00" y="503.17" width="10.00" height="22.33" fill="#1a1a1a" stroke="none" stroke-width="1"/>
<line x1="601.50" y1="451.80" x2="601.50" y2="526.00" stroke="#222" stroke-width="1.0"/>
<line x1="601.00" y1="525.50" x2="674.90" y2="525.50" stroke="#222" stroke-width="1.0"/>
<line x1="598.50" y1="525.50" x2="601.50" y2="525.50" stroke="#222" stroke-width="0.9"/>
<line x1="599.90" y1="518.18" x2="601.50" y2="518.18" stroke="#222" stroke-width="0.9"/>
<line x1="599.90" y1="510.86" x2="601.50" y2="510.86" stroke="#222" stroke-width="0.9"/>
<line x1="599.90" y1="503.54" x2="601.50" y2="503.54" stroke="#222" stroke-width="0.9"/>
<line x1="599.90" y1="496.22" x2="601.50" y2="496.22" stroke="#222" stroke-width="0.9"/>
<line x1="598.50" y1="488.90" x2="601.50" y2="488.90" stroke="#222" stroke-width="0.9"/>
<line x1="599.90" y1="481.58" x2="601.50" y2="481.58" stroke="#222" stroke-width="0.9"/>
<line x1="599.90" y1="474.26" x2="601.50" y2="474.26" stroke="#222" stroke-width="0.9"/>
<line x1="599.90" y1="466.94" x2="601.50" y2="466.94" stroke="#222" stroke-width="0.9"/>
<line x1="599.90" y1="459.62" x2="601.50" y2="459.62" stroke="#222" stroke-width="0.9"/>
<line x1="598.50" y1="452.30" x2="601.50" y2="452.30" stroke="#222" stroke-width="0.9"/>
<text x="597.90" y="527.50" font-size="5.6" text-anchor="end" fill="#222" font-weight="bold" font-style="normal" >0.0</text>
<text x="597.90" y="490.90" font-size="5.6" text-anchor="end" fill="#222" font-weight="bold" font-style="normal" >0.5</text>
<text x="597.90" y="454.30" font-size="5.6" text-anchor="end" fill="#222" font-weight="bold" font-style="normal" >1.0</text>
<text transform="translate(587.30,488.90) rotate(-90) scale(1,1.1)" font-size="6.2" text-anchor="middle" fill="#222" font-weight="bold">Isoform fraction</text>
<line x1="618.70" y1="525.50" x2="618.70" y2="528.70" stroke="#222" stroke-width="0.9"/>
<text transform="translate(618.70,535.00) scale(1,1.12)" font-size="5.8" text-anchor="middle" fill="#222" font-weight="bold" font-style="italic" >TTLL12_201</text>
<line x1="657.60" y1="525.50" x2="657.60" y2="528.70" stroke="#222" stroke-width="0.9"/>
<text transform="translate(657.60,535.00) scale(1,1.12)" font-size="5.8" text-anchor="middle" fill="#222" font-weight="bold" font-style="italic" >TTLL12_204</text>
<text transform="translate(638.20,544.30) scale(1,1.1)" font-size="6.2" text-anchor="middle" fill="#222" font-weight="bold" font-style="normal" >Isoforms</text>
<text transform="translate(629.80,426.00) scale(1.058,1)" font-size="7.7" text-anchor="middle" fill="#1e1e1e" font-weight="normal" font-style="normal" >Isoform switching of <tspan font-style="italic">TTLL12</tspan></text>
<text transform="translate(629.80,435.80) scale(1.058,1)" font-size="7.7" text-anchor="middle" fill="#1e1e1e" font-weight="normal" font-style="normal" >(RNA-seq)</text>
<line x1="610.30" y1="478.10" x2="627.10" y2="478.10" stroke="#222" stroke-width="1.3"/>
<text transform="translate(618.70,475.10) scale(1,1.08)" font-size="5.1" text-anchor="middle" fill="#333" font-weight="normal" font-style="normal" >P = 0.001</text>
<line x1="650.60" y1="482.30" x2="668.20" y2="482.30" stroke="#222" stroke-width="1.3"/>
<text transform="translate(659.30,479.70) scale(1,1.08)" font-size="5.1" text-anchor="middle" fill="#333" font-weight="normal" font-style="normal" >P = 0.013</text>
<rect x="289.60" y="555.10" width="129.30" height="16.00" fill="#fff" stroke="#222" stroke-width="1.2"/>
<rect x="293.30" y="558.80" width="12.80" height="8.50" fill="#fff" stroke="#333" stroke-width="1.0"/>
<text transform="translate(309.60,566.20) scale(1,1.05)" font-size="8.1" text-anchor="start" fill="#333" font-weight="normal" font-style="normal" >BE.LGD</text>
<rect x="346.00" y="558.60" width="13.70" height="8.80" fill="#1a1a1a" stroke="none" stroke-width="1"/>
<text transform="translate(363.40,566.20) scale(1,1.05)" font-size="8.1" text-anchor="start" fill="#333" font-weight="normal" font-style="normal" >BE.HGD+EAC</text>
</svg></body></html>
